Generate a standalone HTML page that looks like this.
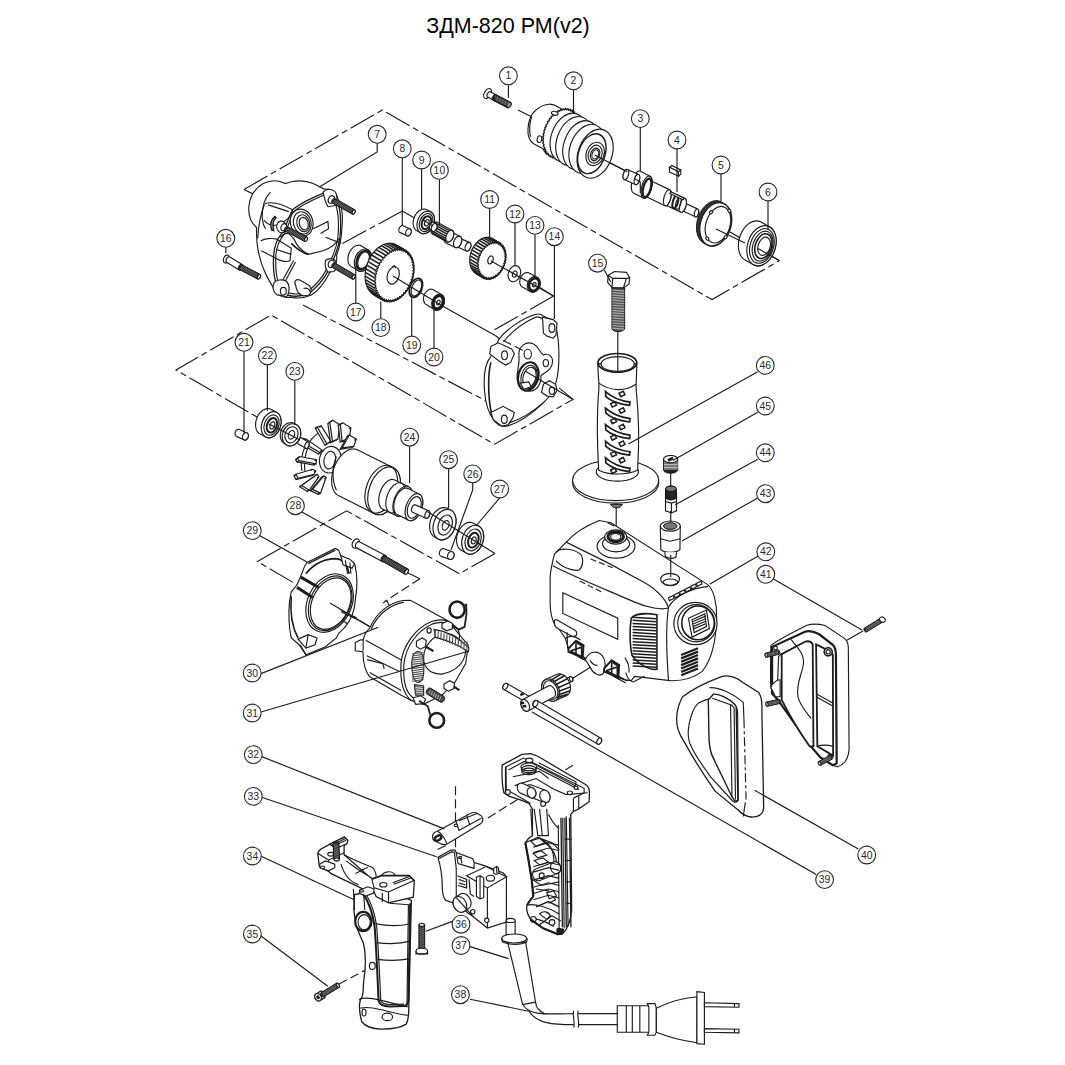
<!DOCTYPE html>
<html><head><meta charset="utf-8"><style>
html,body{margin:0;padding:0;background:#fff;}
body{width:1065px;height:1065px;overflow:hidden;position:relative;}
#t{position:absolute;left:0;top:0;width:1065px;text-align:center;}
svg{position:absolute;left:0;top:0;}
svg *{vector-effect:non-scaling-stroke;}
.l{fill:none;stroke:#1c1c1c;stroke-width:1.15;}
.d{fill:none;stroke:#1c1c1c;stroke-width:1.15;stroke-dasharray:27 4 6 4;}
.d2{fill:none;stroke:#1c1c1c;stroke-width:1.15;stroke-dasharray:9 4;}
.c{fill:#fff;stroke:#2a2a2a;stroke-width:1.1;}
.n{font-family:"Liberation Sans",sans-serif;font-size:10.4px;text-anchor:middle;fill:#2a2a2a;}
.o{fill:#fff;stroke:#1c1c1c;stroke-width:1.15;}
.k{fill:#222;stroke:#111;stroke-width:1;}
.g{fill:#777;stroke:#111;stroke-width:1;}
.tt{font-family:"Liberation Sans",sans-serif;font-size:21.5px;fill:#000;}
</style></head><body>
<svg width="1065" height="1065" viewBox="0 0 1065 1065">
<text class="tt" x="508" y="33" text-anchor="middle">ЗДМ-820 РМ(v2)</text>
<polyline class="d" points="244,189.5 382.4,110 712,299.6 779.3,260.6" />
<polyline class="d" points="402.3,211 336,247" />
<polyline class="d" points="553.5,296 491.5,331.6" />
<polyline class="d" points="303,305 490,403" />
<polyline class="d" points="495.7,335.8 573,399.4 494.6,444.2 271,315 176,370 257.7,417.4" />
<polyline class="d" points="495,553.4 459.5,573.7 346.6,510.8 257.4,561.5 335,607" />
<polyline class="d2" points="339,984 368,968.7" />
<polyline class="d2" points="455.5,786.3 455.5,849.4" />
<polyline class="d2" points="487.9,817.9 573.7,764.7" />
<polyline class="d2" points="437.6,849.4 447.5,844.5" />
<polyline class="d2" points="420,578.7 384.7,601.6" />
<polyline class="l" points="244,189.5 265,200" />
<polyline class="l" points="518,110 531.5,116.7" />
<polyline class="l" points="594.6,155 627.3,171.8" />
<polyline class="l" points="705,217.6 779.3,260.6" />
<polyline class="l" points="402.3,211 414.5,218" />
<polyline class="l" points="539,287 553.5,296" />
<polyline class="l" points="442,305.8 495.7,335.8" />
<polyline class="l" points="406.5,572.2 420,578.7" />
<polyline class="l" points="335,607 370,626.7" />
<polyline class="l" points="617.8,331 617.8,352" />
<polyline class="l" points="616.2,506.6 616.2,538.3" />
<g transform="translate(470,60) scale(0.15974)"><ellipse class="o" cx="110" cy="210" rx="20" ry="34" transform="rotate(30 110 210)" /><polygon class="o" points="106.1,224.05 106.12,222.84 106.24,221.57 106.45,220.25 106.75,218.9 107.13,217.51 107.6,216.1 108.14,214.69 108.76,213.28 109.45,211.88 110.21,210.5 111.02,209.16 111.89,207.86 112.8,206.62 113.75,205.44 114.74,204.33 115.75,203.31 116.78,202.37 117.81,201.53 118.85,200.8 119.88,200.17 120.9,199.65 121.9,199.25 122.86,198.97 123.79,198.81 124.68,198.78 125.51,198.87 126.29,199.08 127,199.41 169,222.41 169.65,222.86 170.22,223.43 170.71,224.11 171.12,224.89 171.45,225.77 171.69,226.75 171.84,227.81 171.9,228.95 171.88,230.16 171.76,231.43 171.55,232.75 171.25,234.1 170.87,235.49 170.4,236.9 169.86,238.31 169.24,239.72 168.55,241.12 167.79,242.5 166.98,243.84 166.11,245.14 165.2,246.38 164.25,247.56 163.26,248.67 162.25,249.69 161.22,250.63 160.19,251.47 159.15,252.2 158.12,252.83 157.1,253.35 156.1,253.75 155.14,254.03 154.21,254.19 153.32,254.22 152.49,254.13 151.71,253.92 151,253.59 109,230.59 108.35,230.14 107.78,229.57 107.29,228.89 106.88,228.11 106.55,227.23 106.31,226.25 106.16,225.19" /><ellipse class="o" cx="160" cy="238" rx="9" ry="18" transform="rotate(30 160 238)" /><polygon class="k" points="138.19,242.36 138.27,240.92 138.46,239.43 138.75,237.9 139.14,236.34 139.63,234.76 140.21,233.17 140.88,231.59 141.64,230.03 142.47,228.5 143.38,227.01 144.35,225.58 145.39,224.2 146.47,222.91 147.59,221.7 148.75,220.58 149.93,219.56 151.13,218.65 152.33,217.86 153.54,217.2 154.73,216.66 155.9,216.25 157.04,215.98 158.14,215.84 159.19,215.85 160.19,215.99 161.13,216.27 162,216.68 255,264.68 255.79,265.22 256.5,265.9 257.12,266.69 257.66,267.61 258.09,268.63 258.42,269.75 258.66,270.97 258.78,272.27 258.81,273.64 258.73,275.08 258.54,276.57 258.25,278.1 257.86,279.66 257.37,281.24 256.79,282.83 256.12,284.41 255.36,285.97 254.53,287.5 253.62,288.99 252.65,290.42 251.61,291.8 250.53,293.09 249.41,294.3 248.25,295.42 247.07,296.44 245.87,297.35 244.67,298.14 243.46,298.8 242.27,299.34 241.1,299.75 239.96,300.02 238.86,300.16 237.81,300.15 236.81,300.01 235.87,299.73 235,299.32 142,251.32 141.21,250.78 140.5,250.1 139.88,249.31 139.34,248.39 138.91,247.37 138.58,246.25 138.34,245.03 138.22,243.73" /><ellipse class="o" cx="245" cy="282" rx="9" ry="17" transform="rotate(30 245 282)" /><line class="l" x1="160" y1="222" x2="166" y2="256" style="stroke:#666"/><line class="l" x1="170" y1="227" x2="176" y2="261" style="stroke:#666"/><line class="l" x1="180" y1="232" x2="186" y2="266" style="stroke:#666"/><line class="l" x1="190" y1="237" x2="196" y2="271" style="stroke:#666"/><line class="l" x1="200" y1="242" x2="206" y2="276" style="stroke:#666"/><line class="l" x1="210" y1="247" x2="216" y2="281" style="stroke:#666"/><line class="l" x1="220" y1="252" x2="226" y2="286" style="stroke:#666"/><line class="l" x1="230" y1="257" x2="236" y2="291" style="stroke:#666"/><line class="l" x1="240" y1="262" x2="246" y2="296" style="stroke:#666"/></g>
<g transform="translate(520,95) scale(0.09390)"><path class="o" d="M 240,570 L 150,522 C 100,492 80,430 85,360 C 90,280 120,200 170,160 C 210,125 260,100 310,98 C 350,97 380,110 410,130 L 480,170 L 280,630 Z" /><path class="l" d="M 125,228 C 102,280 96,380 112,445" /><polygon class="o" points="612.64,474.07 598.59,487.24 598.88,507.26 584.11,518.21 582.38,538.8 567.14,547.35 563.42,568.15 547.97,574.15 542.32,594.8 526.94,598.15 519.46,618.31 504.4,618.95 495.22,638.27 480.73,636.19 470.01,654.33 456.35,649.57 444.27,666.23 431.67,658.86 418.43,673.76 407.11,663.91 392.94,676.79 383.09,664.63 368.24,675.26 360.03,661.01 344.74,669.22 338.31,653.11 322.86,658.75 318.31,641.06 302.96,644.03 300.38,625.07 285.38,625.33 284.81,605.41 270.42,602.96 271.88,582.42 258.35,577.3 261.8,556.5 249.37,548.79 254.75,528.09 243.62,517.91 250.86,497.66 241.22,485.21 250.17,465.76 242.2,451.23 252.72,432.91 246.54,416.57 258.45,399.68 254.17,381.8 267.26,366.64 264.96,347.53 279.01,334.36 278.72,314.34 293.49,303.39 295.22,282.8 310.46,274.25 314.18,253.45 329.63,247.45 335.28,226.8 350.66,223.45 358.14,203.29 373.2,202.65 382.38,183.33 396.87,185.41 407.59,167.27 421.25,172.03 433.33,155.37 445.93,162.74 459.17,147.84 470.49,157.69 484.66,144.81 494.51,156.97 509.36,146.34 517.57,160.59 532.86,152.38 539.29,168.49 554.74,162.85 559.29,180.54 574.64,177.57 577.22,196.53 592.22,196.27 592.79,216.19 607.18,218.64 605.72,239.18 619.25,244.3 615.8,265.1 628.23,272.81 622.85,293.51 633.98,303.69 626.74,323.94 636.38,336.39 627.43,355.84 635.4,370.37 624.88,388.69 631.06,405.03 619.15,421.92 623.43,439.8 610.34,454.96 612.64,474.07" style="stroke-width:1.4"/><ellipse class="o" cx="512.76" cy="454.66" rx="180" ry="270" transform="rotate(20 512.76 454.66)" /><ellipse class="o" cx="572.96" cy="490.36" rx="180" ry="270" transform="rotate(20 572.96 490.36)" /><ellipse class="o" cx="647.78" cy="534.73" rx="180" ry="270" transform="rotate(20 647.78 534.73)" /><ellipse class="o" cx="713.14" cy="573.49" rx="180" ry="270" transform="rotate(20 713.14 573.49)" /><ellipse class="o" cx="800" cy="625" rx="180" ry="270" transform="rotate(20 800 625)" /><ellipse class="o" cx="370" cy="195" rx="36" ry="20" transform="rotate(15 370 195)" /><ellipse class="o" cx="207" cy="470" rx="24" ry="36" transform="rotate(10 207 470)" /><ellipse class="l" cx="765" cy="625" rx="140" ry="220" transform="rotate(20 765 625)" style="stroke-width:1.4"/><ellipse class="l" cx="800" cy="628" rx="95" ry="128" transform="rotate(20 800 628)" /><ellipse class="l" cx="800" cy="630" rx="72" ry="98" transform="rotate(20 800 630)" /><ellipse class="l" cx="800" cy="632" rx="48" ry="68" transform="rotate(20 800 632)" /><ellipse class="l" cx="802" cy="632" rx="34" ry="50" transform="rotate(20 802 632)" /></g>
<g transform="translate(620,150) scale(0.08453)"><polygon class="o" points="688.71,672.8 688.74,668.96 688.97,665.02 689.39,661 690.01,656.93 690.82,652.85 691.82,648.79 692.99,644.77 694.33,640.83 695.82,637 697.46,633.31 699.24,629.78 701.14,626.44 703.14,623.32 705.23,620.44 707.39,617.82 709.62,615.49 711.88,613.46 714.17,611.74 716.46,610.35 718.75,609.31 721,608.61 723.21,608.26 725.36,608.27 727.42,608.64 729.4,609.35 919.4,699.35 921.26,700.42 923,701.82 924.6,703.56 926.06,705.6 927.35,707.95 928.47,710.58 929.42,713.48 930.18,716.61 930.74,719.96 931.12,723.49 931.29,727.2 931.26,731.04 931.03,734.98 930.61,739 929.99,743.07 929.18,747.15 928.18,751.21 927.01,755.23 925.67,759.17 924.18,763 922.54,766.69 920.76,770.22 918.86,773.56 916.86,776.68 914.77,779.56 912.61,782.18 910.38,784.51 908.12,786.54 905.83,788.26 903.54,789.65 901.25,790.69 899,791.39 896.79,791.74 894.64,791.73 892.58,791.36 890.6,790.65 700.6,700.65 698.74,699.58 697,698.18 695.4,696.44 693.94,694.4 692.65,692.05 691.53,689.42 690.58,686.52 689.82,683.39 689.26,680.04 688.88,676.51" /><ellipse class="o" cx="905" cy="745" rx="24" ry="48" transform="rotate(15 905 745)" /><polygon class="o" points="489.02,587.5 489.3,580.85 489.89,574 490.78,567 491.98,559.91 493.46,552.79 495.23,545.68 497.25,538.65 499.53,531.73 502.04,525 504.76,518.49 507.67,512.27 510.76,506.36 513.99,500.83 517.34,495.71 520.78,491.04 524.3,486.86 527.86,483.19 531.44,480.07 535.01,477.53 538.54,475.57 542,474.22 545.37,473.48 548.63,473.36 551.74,473.86 554.69,474.98 769.69,574.98 772.45,576.71 775,579.04 777.32,581.94 779.4,585.4 781.21,589.39 782.75,593.88 784.01,598.83 784.96,604.22 785.61,609.98 785.95,616.09 785.98,622.5 785.7,629.15 785.11,636 784.22,643 783.02,650.09 781.54,657.21 779.77,664.32 777.75,671.35 775.47,678.27 772.96,685 770.24,691.51 767.33,697.73 764.24,703.64 761.01,709.17 757.66,714.29 754.22,718.96 750.7,723.14 747.14,726.81 743.56,729.93 739.99,732.47 736.46,734.43 733,735.78 729.63,736.52 726.37,736.64 723.26,736.14 720.31,735.02 505.31,635.02 502.55,633.29 500,630.96 497.68,628.06 495.6,624.6 493.79,620.61 492.25,616.12 490.99,611.17 490.04,605.78 489.39,600.02 489.05,593.91" /><ellipse class="o" cx="745" cy="655" rx="36" ry="84" transform="rotate(15 745 655)" /><ellipse class="l" cx="655" cy="615" rx="30" ry="78" transform="rotate(15 655 615)" style="stroke-width:2"/><ellipse class="l" cx="690" cy="630" rx="28" ry="74" transform="rotate(15 690 630)" /><polygon class="o" points="283.8,500.81 283.86,493.36 284.26,485.62 285.02,477.65 286.11,469.5 287.55,461.24 289.3,452.94 291.36,444.65 293.72,436.44 296.35,428.37 299.24,420.5 302.37,412.9 305.7,405.61 309.22,398.7 312.9,392.22 316.71,386.22 320.61,380.74 324.59,375.83 328.62,371.52 332.65,367.85 336.66,364.83 340.62,362.51 344.5,360.89 348.27,359.98 351.9,359.8 355.36,360.34 358.64,361.6 588.64,471.6 591.69,473.58 594.5,476.24 597.05,479.59 599.32,483.58 601.28,488.2 602.94,493.4 604.27,499.14 605.26,505.39 605.9,512.08 606.2,519.19 606.14,526.64 605.74,534.38 604.98,542.35 603.89,550.5 602.45,558.76 600.7,567.06 598.64,575.35 596.28,583.56 593.65,591.63 590.76,599.5 587.63,607.1 584.3,614.39 580.78,621.3 577.1,627.78 573.29,633.78 569.39,639.26 565.41,644.17 561.38,648.48 557.35,652.15 553.34,655.17 549.38,657.49 545.5,659.11 541.73,660.02 538.1,660.2 534.64,659.66 531.36,658.4 301.36,548.4 298.31,546.42 295.5,543.76 292.95,540.41 290.68,536.42 288.72,531.8 287.06,526.6 285.73,520.86 284.74,514.61 284.1,507.92" /><ellipse class="o" cx="560" cy="565" rx="40" ry="98" transform="rotate(15 560 565)" /><polygon class="o" points="134.01,432.2 134.46,421.5 135.4,410.49 136.84,399.25 138.76,387.86 141.14,376.41 143.98,364.99 147.23,353.68 150.89,342.57 154.93,331.75 159.31,321.29 163.99,311.29 168.95,301.8 174.15,292.91 179.54,284.68 185.09,277.18 190.75,270.46 196.49,264.57 202.25,259.56 207.99,255.47 213.67,252.33 219.25,250.16 224.68,248.97 229.92,248.79 234.94,249.6 239.69,251.4 354.69,311.4 359.14,314.19 363.25,317.93 366.99,322.6 370.34,328.16 373.27,334.58 375.76,341.79 377.78,349.76 379.32,358.41 380.38,367.68 380.93,377.5 380.99,387.8 380.54,398.5 379.6,409.51 378.16,420.75 376.24,432.14 373.86,443.59 371.02,455.01 367.77,466.32 364.11,477.43 360.07,488.25 355.69,498.71 351.01,508.71 346.05,518.2 340.85,527.09 335.46,535.32 329.91,542.82 324.25,549.54 318.51,555.43 312.75,560.44 307.01,564.53 301.33,567.67 295.75,569.84 290.32,571.03 285.08,571.21 280.06,570.4 275.31,568.6 160.31,508.6 155.86,505.81 151.75,502.07 148.01,497.4 144.66,491.84 141.73,485.42 139.24,478.21 137.22,470.24 135.68,461.59 134.62,452.32 134.07,442.5" /><ellipse class="o" cx="315" cy="440" rx="58" ry="135" transform="rotate(15 315 440)" /><ellipse class="l" cx="320" cy="448" rx="44" ry="112" transform="rotate(15 320 448)" style="stroke-width:2.2"/><polygon class="o" points="36.88,313.22 36.96,308.27 37.28,303.19 37.86,298 38.68,292.75 39.73,287.48 41.02,282.24 42.53,277.05 44.25,271.95 46.16,267 48.26,262.22 50.52,257.65 52.93,253.33 55.47,249.29 58.12,245.56 60.86,242.16 63.67,239.13 66.52,236.49 69.41,234.25 72.3,232.44 75.17,231.07 78,230.14 80.77,229.67 83.46,229.66 86.05,230.11 88.51,231.02 218.51,291.02 220.83,292.37 223,294.16 224.99,296.38 226.79,299.01 228.39,302.02 229.77,305.4 230.92,309.11 231.84,313.14 232.51,317.45 232.94,322.01 233.12,326.78 233.04,331.73 232.72,336.81 232.14,342 231.32,347.25 230.27,352.52 228.98,357.76 227.47,362.95 225.75,368.05 223.84,373 221.74,377.78 219.48,382.35 217.07,386.67 214.53,390.71 211.88,394.44 209.14,397.84 206.33,400.87 203.48,403.51 200.59,405.75 197.7,407.56 194.83,408.93 192,409.86 189.23,410.33 186.54,410.34 183.95,409.89 181.49,408.98 51.49,348.98 49.17,347.63 47,345.84 45.01,343.62 43.21,340.99 41.61,337.98 40.23,334.6 39.08,330.89 38.16,326.86 37.49,322.55 37.06,317.99" /><ellipse class="o" cx="200" cy="350" rx="30" ry="62" transform="rotate(15 200 350)" /><ellipse class="o" cx="70" cy="290" rx="30" ry="62" transform="rotate(15 70 290)" /><polyline class="l" points="175,340 240,380 240,510" /><polygon class="o" points="600,495 760,570 745,590 590,515" /><polygon class="o" points="585,205 612,183 718,235 692,258" /><polygon class="o" points="585,205 692,258 692,310 585,262" /><polygon class="o" points="692,258 718,235 720,285 692,310" /></g>
<g transform="translate(600,180) scale(0.18779)"><polygon class="k" points="513.65,252.27 514.03,242.22 515.07,232.06 516.76,221.86 519.08,211.7 522.01,201.66 525.54,191.81 529.64,182.23 534.27,172.99 539.4,164.16 544.99,155.8 551,147.99 557.39,140.78 564.09,134.23 571.08,128.38 578.28,123.29 585.64,118.98 593.12,115.49 600.65,112.86 608.17,111.09 615.63,110.2 622.98,110.21 630.14,111.1 637.08,112.87 643.74,115.52 650.06,119.01 666.06,128.01 672,132.32 677.52,137.42 682.57,143.27 687.11,149.83 691.11,157.05 694.54,164.86 697.37,173.22 699.58,182.05 701.15,191.3 702.08,200.88 702.35,210.73 701.97,220.78 700.93,230.94 699.24,241.14 696.92,251.3 693.99,261.34 690.46,271.19 686.36,280.77 681.73,290.01 676.6,298.84 671.01,307.2 665,315.01 658.61,322.22 651.91,328.77 644.92,334.62 637.72,339.71 630.36,344.02 622.88,347.51 615.35,350.14 607.83,351.91 600.37,352.8 593.02,352.79 585.86,351.9 578.92,350.13 572.26,347.48 565.94,343.99 549.94,334.99 544,330.68 538.48,325.58 533.43,319.73 528.89,313.17 524.89,305.95 521.46,298.14 518.63,289.78 516.42,280.95 514.85,271.7 513.92,262.12" style="fill:#333"/><ellipse class="o" cx="616" cy="236" rx="80" ry="118" transform="rotate(18 616 236)" /><ellipse class="o" cx="628" cy="238" rx="64" ry="100" transform="rotate(18 628 238)" /><ellipse class="o" cx="688.68" cy="164.19" rx="7" ry="10" transform="rotate(-42 688.68 164.19)" /><ellipse class="o" cx="668.6" cy="304.17" rx="7" ry="10" transform="rotate(48 668.6 304.17)" /><ellipse class="o" cx="571.32" cy="311.81" rx="7" ry="10" transform="rotate(138 571.32 311.81)" /><ellipse class="o" cx="591.4" cy="171.83" rx="7" ry="10" transform="rotate(228 591.4 171.83)" /><polygon class="o" points="736.85,348.49 737.24,339.29 738.22,329.99 739.79,320.65 741.93,311.34 744.62,302.13 747.85,293.1 751.59,284.31 755.82,275.84 760.49,267.73 765.58,260.06 771.05,252.89 776.85,246.26 782.94,240.24 789.27,234.86 795.8,230.16 802.48,226.19 809.25,222.97 816.06,220.52 822.87,218.87 829.62,218.03 836.25,218 842.73,218.79 848.99,220.38 855,222.77 900,247.77 905.7,250.94 911.05,254.87 916.01,259.51 920.55,264.85 924.63,270.83 928.21,277.42 931.28,284.56 933.8,292.19 935.76,300.27 937.15,308.73 937.95,317.5 938.15,326.51 937.76,335.71 936.78,345.01 935.21,354.35 933.07,363.66 930.38,372.87 927.15,381.9 923.41,390.69 919.18,399.16 914.51,407.27 909.42,414.94 903.95,422.11 898.15,428.74 892.06,434.76 885.73,440.14 879.2,444.84 872.52,448.81 865.75,452.03 858.94,454.48 852.13,456.13 845.38,456.97 838.75,457 832.27,456.21 826.01,454.62 820,452.23 775,427.23 769.3,424.06 763.95,420.13 758.99,415.49 754.45,410.15 750.37,404.17 746.79,397.58 743.72,390.44 741.2,382.81 739.24,374.73 737.85,366.27 737.05,357.5" /><ellipse class="o" cx="860" cy="350" rx="74" ry="110" transform="rotate(18 860 350)" /><ellipse class="l" cx="862" cy="351" rx="62" ry="95" transform="rotate(18 862 351)" /><ellipse class="l" cx="866" cy="352" rx="52" ry="82" transform="rotate(18 866 352)" /><ellipse class="l" cx="870" cy="352" rx="43" ry="68" transform="rotate(18 870 352)" style="stroke-width:1.6"/><ellipse class="l" cx="874" cy="353" rx="32" ry="50" transform="rotate(18 874 353)" /></g>
<g transform="translate(240,175) scale(0.12210)"><path class="o" d="M 135,430 C 90,390 68,330 72,260 C 80,180 120,110 190,70 C 250,40 320,40 370,70 L 420,55 C 470,45 540,45 600,70 L 690,115 C 740,110 790,140 800,190 C 830,240 845,330 835,430 C 830,520 815,600 790,660 C 800,700 780,760 740,790 C 700,870 640,950 580,985 C 520,1010 460,1010 420,1000 C 380,1010 340,1000 300,960 C 270,920 240,870 215,820 C 175,740 150,650 140,560 C 135,510 135,460 135,430 Z" /><path class="l" d="M 250,140 C 205,185 180,260 182,340 C 183,380 195,420 210,440" /><path class="l" d="M 200,240 C 170,320 150,420 145,520" /><path class="l" d="M 430,285 C 480,240 560,200 680,150 C 720,140 760,160 790,200 C 820,260 830,380 820,500 C 810,580 790,640 760,700 C 730,790 670,880 590,950 C 540,985 470,1000 420,990 C 370,985 330,960 300,900 C 280,850 270,760 275,660 C 280,590 300,530 340,480 C 370,440 400,340 430,285 Z" style="stroke-width:1.3"/><path class="l" d="M 440,300 C 490,255 570,215 680,168 C 715,160 748,178 772,212 C 800,268 812,380 803,498 C 795,575 775,635 745,692 C 715,780 658,865 582,932 C 535,965 472,980 425,972 C 380,968 345,945 318,893 C 298,845 290,760 293,662 C 298,598 316,542 354,496 C 384,458 412,352 440,300 Z" /><path class="l" d="M 200,235 C 260,215 350,240 430,285 L 420,330 C 380,370 340,400 300,410 C 260,420 220,400 195,370" /><path class="l" d="M 230,245 L 400,300" /><path class="o" d="M 285,340 C 255,360 245,400 260,450 L 275,455 C 265,410 270,370 295,350 Z" style="stroke-width:1.5"/><path class="l" d="M 170,540 C 200,520 260,515 300,525 L 420,600 L 410,700 C 380,720 320,700 290,680 L 175,620" /><path class="l" d="M 300,610 L 420,650" /><path class="l" d="M 330,510 C 360,480 390,470 410,490 L 440,520 C 460,570 500,620 560,650 L 680,620 C 740,600 790,560 810,520" /><path class="l" d="M 420,560 C 460,600 520,640 560,650" style="stroke-width:1.6"/><path class="l" d="M 345,870 L 440,700" /><path class="l" d="M 365,880 L 455,712" /><path class="o" d="M 455,900 C 440,870 460,850 490,860 L 560,900 C 590,920 590,970 560,985 L 520,990 C 480,980 460,940 455,900 Z" /><path class="l" d="M 520,930 C 540,920 570,930 575,960" /><path class="l" d="M 600,440 L 720,380 L 725,440 L 660,480" /><path class="l" d="M 700,510 L 830,560" /><ellipse class="o" cx="505" cy="390" rx="92" ry="112" transform="rotate(-15 505 390)" /><ellipse class="l" cx="510" cy="392" rx="72" ry="92" transform="rotate(-15 510 392)" /><ellipse class="l" cx="518" cy="395" rx="52" ry="70" transform="rotate(-15 518 395)" /><ellipse class="l" cx="522" cy="398" rx="36" ry="52" transform="rotate(-15 522 398)" /><path class="o" d="M 680,140 C 700,115 740,110 770,130 C 800,150 800,220 780,250 L 720,260 C 700,230 690,180 680,140 Z" /><path class="o" d="M 700,700 C 720,680 760,680 780,700 C 795,730 790,770 770,790 L 720,795 C 700,770 695,730 700,700 Z" /><path class="o" d="M 280,880 C 300,860 340,850 380,870 C 410,900 410,960 380,1000 L 300,980 C 270,950 265,910 280,880 Z" /><ellipse class="o" cx="355" cy="952" rx="24" ry="32" /><ellipse class="o" cx="340" cy="425" rx="40" ry="48" transform="rotate(-10 340 425)" /><ellipse class="o" cx="748" cy="200" rx="24" ry="32" transform="rotate(25 748 200)" /><polygon class="k" points="750.62,218.96 750.68,217.45 750.86,215.88 751.14,214.27 751.53,212.63 752.02,210.96 752.61,209.29 753.29,207.62 754.07,205.97 754.92,204.35 755.86,202.78 756.86,201.26 757.92,199.81 759.04,198.43 760.21,197.14 761.41,195.95 762.63,194.87 763.88,193.9 765.13,193.05 766.39,192.34 767.63,191.75 768.85,191.31 770.04,191.01 771.2,190.85 772.31,190.84 773.36,190.98 774.35,191.26 775.26,191.68 941.26,284.68 942.1,285.24 942.86,285.94 943.52,286.76 944.09,287.71 944.56,288.78 944.93,289.96 945.19,291.23 945.34,292.59 945.38,294.04 945.32,295.55 945.14,297.12 944.86,298.73 944.47,300.37 943.98,302.04 943.39,303.71 942.71,305.38 941.93,307.03 941.08,308.65 940.14,310.22 939.14,311.74 938.08,313.19 936.96,314.57 935.79,315.86 934.59,317.05 933.37,318.13 932.12,319.1 930.87,319.95 929.61,320.66 928.37,321.25 927.15,321.69 925.96,321.99 924.8,322.15 923.69,322.16 922.64,322.02 921.65,321.74 920.74,321.32 754.74,228.32 753.9,227.76 753.14,227.06 752.48,226.24 751.91,225.29 751.44,224.22 751.07,223.04 750.81,221.77 750.66,220.41" style="fill:#2c2c2c"/><line class="l" x1="763.5" y1="228.42" x2="787.25" y2="203.21" style="stroke:#6a6a6a;stroke-width:1"/><line class="l" x1="773.87" y1="234.23" x2="797.63" y2="209.02" style="stroke:#6a6a6a;stroke-width:1"/><line class="l" x1="784.25" y1="240.04" x2="808" y2="214.83" style="stroke:#6a6a6a;stroke-width:1"/><line class="l" x1="794.62" y1="245.85" x2="818.38" y2="220.65" style="stroke:#6a6a6a;stroke-width:1"/><line class="l" x1="805" y1="251.67" x2="828.75" y2="226.46" style="stroke:#6a6a6a;stroke-width:1"/><line class="l" x1="815.37" y1="257.48" x2="839.13" y2="232.27" style="stroke:#6a6a6a;stroke-width:1"/><line class="l" x1="825.75" y1="263.29" x2="849.5" y2="238.08" style="stroke:#6a6a6a;stroke-width:1"/><line class="l" x1="836.12" y1="269.1" x2="859.88" y2="243.9" style="stroke:#6a6a6a;stroke-width:1"/><line class="l" x1="846.5" y1="274.92" x2="870.25" y2="249.71" style="stroke:#6a6a6a;stroke-width:1"/><line class="l" x1="856.87" y1="280.73" x2="880.63" y2="255.52" style="stroke:#6a6a6a;stroke-width:1"/><line class="l" x1="867.25" y1="286.54" x2="891" y2="261.33" style="stroke:#6a6a6a;stroke-width:1"/><line class="l" x1="877.62" y1="292.35" x2="901.38" y2="267.15" style="stroke:#6a6a6a;stroke-width:1"/><line class="l" x1="888" y1="298.17" x2="911.75" y2="272.96" style="stroke:#6a6a6a;stroke-width:1"/><line class="l" x1="898.37" y1="303.98" x2="922.13" y2="278.77" style="stroke:#6a6a6a;stroke-width:1"/><line class="l" x1="908.75" y1="309.79" x2="932.5" y2="284.58" style="stroke:#6a6a6a;stroke-width:1"/><ellipse class="o" cx="931" cy="303" rx="10.5" ry="19.32" transform="rotate(29.26 931 303)" /><ellipse class="o" cx="358" cy="428" rx="22" ry="30" transform="rotate(25 358 428)" /><polygon class="k" points="363.82,449.29 363.86,447.77 364,446.2 364.24,444.58 364.59,442.93 365.05,441.25 365.6,439.57 366.24,437.89 366.98,436.22 367.8,434.58 368.7,432.99 369.66,431.45 370.69,429.97 371.78,428.57 372.92,427.25 374.09,426.04 375.29,424.92 376.51,423.93 377.75,423.05 378.99,422.31 380.21,421.7 381.43,421.23 382.61,420.9 383.76,420.72 384.87,420.68 385.93,420.79 386.92,421.05 387.85,421.45 549.85,507.45 550.7,507.99 551.47,508.67 552.15,509.49 552.74,510.42 553.24,511.48 553.63,512.64 553.92,513.91 554.1,515.27 554.18,516.71 554.14,518.23 554,519.8 553.76,521.42 553.41,523.07 552.95,524.75 552.4,526.43 551.76,528.11 551.02,529.78 550.2,531.42 549.3,533.01 548.34,534.55 547.31,536.03 546.22,537.43 545.08,538.75 543.91,539.96 542.71,541.08 541.49,542.07 540.25,542.95 539.01,543.69 537.79,544.3 536.57,544.77 535.39,545.1 534.24,545.28 533.13,545.32 532.07,545.21 531.08,544.95 530.15,544.55 368.15,458.55 367.3,458.01 366.53,457.33 365.85,456.51 365.26,455.58 364.76,454.52 364.37,453.36 364.08,452.09 363.9,450.73" style="fill:#2c2c2c"/><line class="l" x1="377.21" y1="458.6" x2="400.39" y2="432.86" style="stroke:#6a6a6a;stroke-width:1"/><line class="l" x1="388.01" y1="464.34" x2="411.19" y2="438.6" style="stroke:#6a6a6a;stroke-width:1"/><line class="l" x1="398.81" y1="470.07" x2="421.99" y2="444.33" style="stroke:#6a6a6a;stroke-width:1"/><line class="l" x1="409.61" y1="475.8" x2="432.79" y2="450.06" style="stroke:#6a6a6a;stroke-width:1"/><line class="l" x1="420.41" y1="481.54" x2="443.59" y2="455.8" style="stroke:#6a6a6a;stroke-width:1"/><line class="l" x1="431.21" y1="487.27" x2="454.39" y2="461.53" style="stroke:#6a6a6a;stroke-width:1"/><line class="l" x1="442.01" y1="493" x2="465.19" y2="467.26" style="stroke:#6a6a6a;stroke-width:1"/><line class="l" x1="452.81" y1="498.74" x2="475.99" y2="473" style="stroke:#6a6a6a;stroke-width:1"/><line class="l" x1="463.61" y1="504.47" x2="486.79" y2="478.73" style="stroke:#6a6a6a;stroke-width:1"/><line class="l" x1="474.41" y1="510.2" x2="497.59" y2="484.46" style="stroke:#6a6a6a;stroke-width:1"/><line class="l" x1="485.21" y1="515.94" x2="508.39" y2="490.2" style="stroke:#6a6a6a;stroke-width:1"/><line class="l" x1="496.01" y1="521.67" x2="519.19" y2="495.93" style="stroke:#6a6a6a;stroke-width:1"/><line class="l" x1="506.81" y1="527.4" x2="529.99" y2="501.66" style="stroke:#6a6a6a;stroke-width:1"/><line class="l" x1="517.61" y1="533.14" x2="540.79" y2="507.4" style="stroke:#6a6a6a;stroke-width:1"/><ellipse class="o" cx="540" cy="526" rx="10.5" ry="19.32" transform="rotate(27.96 540 526)" /><ellipse class="o" cx="748" cy="728" rx="24" ry="32" transform="rotate(25 748 728)" /><polygon class="k" points="750.46,746.7 750.55,745.19 750.75,743.63 751.07,742.02 751.48,740.38 752.01,738.73 752.63,737.06 753.34,735.41 754.14,733.78 755.03,732.17 755.99,730.61 757.02,729.11 758.11,727.68 759.25,726.32 760.44,725.06 761.66,723.89 762.91,722.83 764.17,721.88 765.44,721.06 766.71,720.36 767.96,719.81 769.19,719.38 770.39,719.1 771.55,718.97 772.65,718.98 773.7,719.13 774.69,719.43 775.59,719.87 941.59,816.87 942.42,817.45 943.17,818.16 943.81,818.99 944.37,819.96 944.82,821.03 945.16,822.21 945.4,823.49 945.53,824.86 945.54,826.3 945.45,827.81 945.25,829.37 944.93,830.98 944.52,832.62 943.99,834.27 943.37,835.94 942.66,837.59 941.86,839.22 940.97,840.83 940.01,842.39 938.98,843.89 937.89,845.32 936.75,846.68 935.56,847.94 934.34,849.11 933.09,850.17 931.83,851.12 930.56,851.94 929.29,852.64 928.04,853.19 926.81,853.62 925.61,853.9 924.45,854.03 923.35,854.02 922.3,853.87 921.31,853.57 920.41,853.13 754.41,756.13 753.58,755.55 752.83,754.84 752.19,754.01 751.63,753.04 751.18,751.97 750.84,750.79 750.6,749.51 750.47,748.14" style="fill:#2c2c2c"/><line class="l" x1="763.27" y1="756.45" x2="787.48" y2="731.68" style="stroke:#6a6a6a;stroke-width:1"/><line class="l" x1="773.65" y1="762.51" x2="797.85" y2="737.74" style="stroke:#6a6a6a;stroke-width:1"/><line class="l" x1="784.02" y1="768.57" x2="808.23" y2="743.8" style="stroke:#6a6a6a;stroke-width:1"/><line class="l" x1="794.4" y1="774.64" x2="818.6" y2="749.86" style="stroke:#6a6a6a;stroke-width:1"/><line class="l" x1="804.77" y1="780.7" x2="828.98" y2="755.93" style="stroke:#6a6a6a;stroke-width:1"/><line class="l" x1="815.15" y1="786.76" x2="839.35" y2="761.99" style="stroke:#6a6a6a;stroke-width:1"/><line class="l" x1="825.52" y1="792.82" x2="849.73" y2="768.05" style="stroke:#6a6a6a;stroke-width:1"/><line class="l" x1="835.9" y1="798.89" x2="860.1" y2="774.11" style="stroke:#6a6a6a;stroke-width:1"/><line class="l" x1="846.27" y1="804.95" x2="870.48" y2="780.18" style="stroke:#6a6a6a;stroke-width:1"/><line class="l" x1="856.65" y1="811.01" x2="880.85" y2="786.24" style="stroke:#6a6a6a;stroke-width:1"/><line class="l" x1="867.02" y1="817.07" x2="891.23" y2="792.3" style="stroke:#6a6a6a;stroke-width:1"/><line class="l" x1="877.4" y1="823.14" x2="901.6" y2="798.36" style="stroke:#6a6a6a;stroke-width:1"/><line class="l" x1="887.77" y1="829.2" x2="911.98" y2="804.43" style="stroke:#6a6a6a;stroke-width:1"/><line class="l" x1="898.15" y1="835.26" x2="922.35" y2="810.49" style="stroke:#6a6a6a;stroke-width:1"/><line class="l" x1="908.52" y1="841.32" x2="932.73" y2="816.55" style="stroke:#6a6a6a;stroke-width:1"/><ellipse class="o" cx="931" cy="835" rx="10.5" ry="19.32" transform="rotate(30.3 931 835)" /></g>
<g transform="translate(210,170) scale(0.14085)"><ellipse class="o" cx="117" cy="632" rx="20" ry="30" transform="rotate(25 117 632)" /><polygon class="o" points="113.2,645.75 113.24,644.17 113.4,642.53 113.66,640.83 114.03,639.1 114.51,637.35 115.09,635.59 115.77,633.83 116.54,632.08 117.4,630.37 118.35,628.69 119.36,627.08 120.44,625.53 121.58,624.06 122.76,622.68 123.99,621.41 125.24,620.24 126.52,619.2 127.81,618.28 129.1,617.5 130.38,616.86 131.65,616.36 132.88,616.01 134.08,615.82 135.23,615.78 136.33,615.89 137.37,616.16 138.33,616.58 228.33,670.58 229.21,671.14 230.01,671.85 230.72,672.7 231.33,673.67 231.84,674.78 232.24,675.99 232.54,677.32 232.72,678.74 232.8,680.25 232.76,681.83 232.6,683.47 232.34,685.17 231.97,686.9 231.49,688.65 230.91,690.41 230.23,692.17 229.46,693.92 228.6,695.63 227.65,697.31 226.64,698.92 225.56,700.47 224.42,701.94 223.24,703.32 222.01,704.59 220.76,705.76 219.48,706.8 218.19,707.72 216.9,708.5 215.62,709.14 214.35,709.64 213.12,709.99 211.92,710.18 210.77,710.22 209.67,710.11 208.63,709.84 207.67,709.42 117.67,655.42 116.79,654.86 115.99,654.15 115.28,653.3 114.67,652.33 114.16,651.22 113.76,650.01 113.46,648.68 113.28,647.26" /><ellipse class="o" cx="218" cy="690" rx="12" ry="22" transform="rotate(28 218 690)" /><polygon class="k" points="201.23,696.49 201.25,695.12 201.37,693.7 201.58,692.23 201.89,690.73 202.29,689.21 202.78,687.69 203.35,686.16 204.01,684.65 204.74,683.16 205.54,681.71 206.41,680.31 207.33,678.97 208.31,677.69 209.32,676.5 210.38,675.39 211.46,674.38 212.56,673.47 213.67,672.67 214.79,671.99 215.89,671.43 216.99,671 218.06,670.69 219.1,670.52 220.1,670.48 221.06,670.58 221.96,670.8 222.8,671.16 356.8,741.16 357.57,741.65 358.27,742.26 358.89,742.99 359.43,743.83 359.89,744.78 360.25,745.83 360.52,746.98 360.69,748.21 360.77,749.51 360.75,750.88 360.63,752.3 360.42,753.77 360.11,755.27 359.71,756.79 359.22,758.31 358.65,759.84 357.99,761.35 357.26,762.84 356.46,764.29 355.59,765.69 354.67,767.03 353.69,768.31 352.68,769.5 351.62,770.61 350.54,771.62 349.44,772.53 348.33,773.33 347.21,774.01 346.11,774.57 345.01,775 343.94,775.31 342.9,775.48 341.9,775.52 340.94,775.42 340.04,775.2 339.2,774.84 205.2,704.84 204.43,704.35 203.73,703.74 203.11,703.01 202.57,702.17 202.11,701.22 201.75,700.17 201.48,699.02 201.31,697.79" style="fill:#2c2c2c"/><line class="l" x1="213.17" y1="704.71" x2="233.98" y2="681.29" style="stroke:#6a6a6a;stroke-width:1"/><line class="l" x1="222.74" y1="709.71" x2="243.55" y2="686.29" style="stroke:#6a6a6a;stroke-width:1"/><line class="l" x1="232.31" y1="714.71" x2="253.12" y2="691.29" style="stroke:#6a6a6a;stroke-width:1"/><line class="l" x1="241.88" y1="719.71" x2="262.69" y2="696.29" style="stroke:#6a6a6a;stroke-width:1"/><line class="l" x1="251.45" y1="724.71" x2="272.26" y2="701.29" style="stroke:#6a6a6a;stroke-width:1"/><line class="l" x1="261.02" y1="729.71" x2="281.83" y2="706.29" style="stroke:#6a6a6a;stroke-width:1"/><line class="l" x1="270.59" y1="734.71" x2="291.41" y2="711.29" style="stroke:#6a6a6a;stroke-width:1"/><line class="l" x1="280.17" y1="739.71" x2="300.98" y2="716.29" style="stroke:#6a6a6a;stroke-width:1"/><line class="l" x1="289.74" y1="744.71" x2="310.55" y2="721.29" style="stroke:#6a6a6a;stroke-width:1"/><line class="l" x1="299.31" y1="749.71" x2="320.12" y2="726.29" style="stroke:#6a6a6a;stroke-width:1"/><line class="l" x1="308.88" y1="754.71" x2="329.69" y2="731.29" style="stroke:#6a6a6a;stroke-width:1"/><line class="l" x1="318.45" y1="759.71" x2="339.26" y2="736.29" style="stroke:#6a6a6a;stroke-width:1"/><line class="l" x1="328.02" y1="764.71" x2="348.83" y2="741.29" style="stroke:#6a6a6a;stroke-width:1"/><ellipse class="o" cx="348" cy="758" rx="9.5" ry="17.48" transform="rotate(27.58 348 758)" /></g>
<g transform="translate(360,130) scale(0.18779)"><polygon class="o" points="207.01,532.73 207.07,531.08 207.24,529.41 207.52,527.73 207.92,526.06 208.42,524.39 209.02,522.76 209.72,521.16 210.52,519.62 211.4,518.13 212.36,516.73 213.4,515.41 214.5,514.19 215.66,513.07 216.87,512.06 218.12,511.18 219.4,510.42 220.69,509.8 222,509.32 223.3,508.98 224.6,508.78 225.88,508.73 227.12,508.83 228.33,509.07 229.49,509.46 265.49,526.46 266.59,526.98 267.63,527.65 268.6,528.45 269.48,529.37 270.28,530.41 270.98,531.56 271.58,532.82 272.08,534.17 272.48,535.6 272.76,537.1 272.93,538.66 272.99,540.27 272.93,541.92 272.76,543.59 272.48,545.27 272.08,546.94 271.58,548.61 270.98,550.24 270.28,551.84 269.48,553.38 268.6,554.87 267.64,556.27 266.6,557.59 265.5,558.81 264.34,559.93 263.13,560.94 261.88,561.82 260.6,562.58 259.31,563.2 258,563.68 256.7,564.02 255.4,564.22 254.12,564.27 252.88,564.17 251.67,563.93 250.51,563.54 214.51,546.54 213.41,546.02 212.37,545.35 211.4,544.55 210.52,543.63 209.72,542.59 209.02,541.44 208.42,540.18 207.92,538.83 207.52,537.4 207.24,535.9 207.07,534.34" /><ellipse class="o" cx="258" cy="545" rx="14" ry="20" transform="rotate(22 258 545)" /><polygon class="o" points="283.06,495.47 283.21,490.36 283.72,485.17 284.58,479.96 285.79,474.75 287.33,469.59 289.2,464.52 291.38,459.57 293.86,454.79 296.61,450.2 299.61,445.85 302.84,441.77 306.28,437.98 309.9,434.53 313.68,431.42 317.58,428.7 321.57,426.37 325.63,424.46 329.72,422.97 333.81,421.93 337.87,421.34 341.88,421.21 345.79,421.53 349.58,422.3 353.23,423.51 356.69,425.17 376.69,436.17 379.96,438.25 382.99,440.74 385.78,443.62 388.29,446.87 390.51,450.46 392.42,454.36 394.02,458.56 395.27,463.01 396.18,467.68 396.74,472.53 396.94,477.53 396.79,482.64 396.28,487.83 395.42,493.04 394.21,498.25 392.67,503.41 390.8,508.48 388.62,513.43 386.14,518.21 383.39,522.8 380.39,527.15 377.16,531.23 373.72,535.02 370.1,538.47 366.32,541.58 362.42,544.3 358.43,546.63 354.37,548.54 350.28,550.03 346.19,551.07 342.13,551.66 338.12,551.79 334.21,551.47 330.42,550.7 326.77,549.49 323.31,547.83 303.31,536.83 300.04,534.75 297.01,532.26 294.22,529.38 291.71,526.13 289.49,522.54 287.58,518.64 285.98,514.44 284.73,509.99 283.82,505.32 283.26,500.47" /><ellipse class="o" cx="350" cy="492" rx="44" ry="62" transform="rotate(22 350 492)" /><ellipse class="l" cx="352" cy="493" rx="34" ry="50" transform="rotate(22 352 493)" /><ellipse class="l" cx="354" cy="494" rx="24" ry="36" transform="rotate(22 354 494)" style="stroke-width:2"/><ellipse class="o" cx="356" cy="494" rx="12" ry="18" transform="rotate(22 356 494)" /><polygon class="o" points="484.21,596.47 484.26,594.58 484.44,592.65 484.73,590.68 485.13,588.69 485.66,586.7 486.29,584.71 487.02,582.76 487.85,580.84 488.78,578.97 489.79,577.17 490.88,575.46 492.04,573.84 493.25,572.33 494.52,570.94 495.84,569.68 497.18,568.56 498.54,567.58 499.92,566.76 501.3,566.11 502.66,565.62 504.01,565.3 505.32,565.15 506.6,565.17 507.83,565.38 508.99,565.75 583.99,599.75 585.09,600.29 586.11,601 587.04,601.86 587.89,602.88 588.63,604.05 589.28,605.35 589.81,606.78 590.23,608.32 590.54,609.97 590.72,611.71 590.79,613.53 590.74,615.42 590.56,617.35 590.27,619.32 589.87,621.31 589.34,623.3 588.71,625.29 587.98,627.24 587.15,629.16 586.22,631.03 585.21,632.83 584.12,634.54 582.96,636.16 581.75,637.67 580.48,639.06 579.16,640.32 577.82,641.44 576.46,642.42 575.08,643.24 573.7,643.89 572.34,644.38 570.99,644.7 569.68,644.85 568.4,644.83 567.17,644.62 566.01,644.25 491.01,610.25 489.91,609.71 488.89,609 487.96,608.14 487.11,607.12 486.37,605.95 485.72,604.65 485.19,603.22 484.77,601.68 484.46,600.03 484.28,598.29" /><ellipse class="o" cx="575" cy="622" rx="14" ry="24" transform="rotate(22 575 622)" /><polygon class="o" points="447.93,582.88 447.95,580.35 448.13,577.75 448.47,575.11 448.99,572.44 449.66,569.77 450.48,567.12 451.46,564.51 452.57,561.95 453.82,559.47 455.19,557.08 456.67,554.81 458.26,552.67 459.93,550.68 461.69,548.84 463.5,547.19 465.36,545.72 467.26,544.46 469.18,543.4 471.11,542.56 473.03,541.94 474.92,541.56 476.78,541.4 478.59,541.48 480.33,541.79 481.99,542.33 531.99,566.33 533.56,567.1 535.03,568.08 536.38,569.28 537.61,570.68 538.7,572.28 539.65,574.05 540.46,575.99 541.1,578.09 541.59,580.32 541.91,582.67 542.07,585.12 542.05,587.65 541.87,590.25 541.53,592.89 541.01,595.56 540.34,598.23 539.52,600.88 538.54,603.49 537.43,606.05 536.18,608.53 534.81,610.92 533.33,613.19 531.74,615.33 530.07,617.32 528.31,619.16 526.5,620.81 524.64,622.28 522.74,623.54 520.82,624.6 518.89,625.44 516.97,626.06 515.08,626.44 513.22,626.6 511.41,626.52 509.67,626.21 508.01,625.67 458.01,601.67 456.44,600.9 454.97,599.92 453.62,598.72 452.39,597.32 451.3,595.72 450.35,593.95 449.54,592.01 448.9,589.91 448.41,587.68 448.09,585.33" /><ellipse class="o" cx="520" cy="596" rx="20" ry="32" transform="rotate(22 520 596)" /><polygon class="o" points="376.48,532.72 376.56,530.13 376.81,527.48 377.22,524.78 377.78,522.04 378.5,519.3 379.37,516.58 380.38,513.88 381.53,511.24 382.8,508.68 384.18,506.21 385.67,503.85 387.26,501.62 388.92,499.54 390.66,497.62 392.45,495.88 394.28,494.33 396.15,492.99 398.02,491.85 399.9,490.94 401.76,490.26 403.59,489.81 405.38,489.6 407.12,489.63 408.78,489.9 410.36,490.4 411.85,491.14 491.85,535.14 493.23,536.1 494.5,537.29 495.64,538.68 496.65,540.28 497.51,542.06 498.23,544.02 498.79,546.14 499.2,548.4 499.44,550.78 499.52,553.28 499.44,555.87 499.19,558.52 498.78,561.22 498.22,563.96 497.5,566.7 496.63,569.42 495.62,572.12 494.47,574.76 493.2,577.32 491.82,579.79 490.33,582.15 488.74,584.38 487.08,586.46 485.34,588.38 483.55,590.12 481.72,591.67 479.85,593.01 477.98,594.15 476.1,595.06 474.24,595.74 472.41,596.19 470.62,596.4 468.88,596.37 467.22,596.1 465.64,595.6 464.15,594.86 384.15,550.86 382.77,549.9 381.5,548.71 380.36,547.32 379.35,545.72 378.49,543.94 377.77,541.98 377.21,539.86 376.8,537.6 376.56,535.22" style="fill:#eee"/><ellipse class="o" cx="478" cy="565" rx="19" ry="33" transform="rotate(22 478 565)" style="fill:#eee"/><line class="l" x1="382.77" y1="549.9" x2="462.77" y2="593.9" style="stroke-width:1.4"/><line class="l" x1="378.18" y1="543.18" x2="458.18" y2="587.18" style="stroke-width:1.4"/><line class="l" x1="376.48" y1="533.23" x2="456.48" y2="577.23" style="stroke-width:1.4"/><line class="l" x1="377.92" y1="521.5" x2="457.92" y2="565.5" style="stroke-width:1.4"/><line class="l" x1="382.28" y1="509.69" x2="462.28" y2="553.69" style="stroke-width:1.4"/><line class="l" x1="388.92" y1="499.54" x2="468.92" y2="543.54" style="stroke-width:1.4"/><line class="l" x1="396.9" y1="492.51" x2="476.9" y2="536.51" style="stroke-width:1.4"/><polygon class="o" points="369.64,517.66 369.75,515.87 369.98,514.05 370.33,512.21 370.79,510.38 371.35,508.55 372.02,506.76 372.79,505 373.65,503.29 374.59,501.65 375.62,500.1 376.72,498.63 377.88,497.26 379.09,496 380.35,494.87 381.65,493.87 382.97,493 384.31,492.28 385.65,491.71 386.98,491.3 388.3,491.04 389.6,490.94 390.86,491 392.08,491.22 393.24,491.6 394.34,492.14 395.37,492.82 405.37,499.82 406.32,500.65 407.18,501.63 407.96,502.73 408.63,503.96 409.2,505.3 409.66,506.75 410.01,508.28 410.24,509.91 410.36,511.6 410.36,513.34 410.25,515.13 410.02,516.95 409.67,518.79 409.21,520.62 408.65,522.45 407.98,524.24 407.21,526 406.35,527.71 405.41,529.35 404.38,530.9 403.28,532.37 402.12,533.74 400.91,535 399.65,536.13 398.35,537.13 397.03,538 395.69,538.72 394.35,539.29 393.02,539.7 391.7,539.96 390.4,540.06 389.14,540 387.92,539.78 386.76,539.4 385.66,538.86 384.63,538.18 374.63,531.18 373.68,530.35 372.82,529.37 372.04,528.27 371.37,527.04 370.8,525.7 370.34,524.25 369.99,522.72 369.76,521.09 369.64,519.4" /><ellipse class="o" cx="395" cy="519" rx="14" ry="22" transform="rotate(22 395 519)" /><polygon class="o" points="584.37,689.62 584.95,680.99 586.11,672.29 587.83,663.59 590.11,654.93 592.92,646.4 596.25,638.06 600.07,629.97 604.35,622.19 609.05,614.79 614.15,607.81 619.6,601.31 625.36,595.34 631.4,589.95 637.65,585.18 644.08,581.06 650.63,577.62 657.26,574.9 663.91,572.9 670.54,571.66 677.1,571.17 683.52,571.44 689.78,572.46 695.81,574.24 701.57,576.76 707.02,579.99 747.44,603.96 752.54,607.88 757.24,612.47 761.52,617.69 765.34,623.49 768.66,629.84 771.48,636.68 773.75,643.97 775.47,651.65 776.63,659.66 777.21,667.93 777.21,676.41 776.63,685.04 775.47,693.74 773.75,702.44 771.47,711.1 768.66,719.63 765.33,727.97 761.51,736.06 757.23,743.84 752.53,751.24 747.43,758.22 741.98,764.72 736.22,770.69 730.18,776.08 723.93,780.85 717.5,784.97 710.95,788.41 704.32,791.13 697.67,793.13 691.04,794.37 684.48,794.86 678.06,794.59 671.8,793.57 665.77,791.79 660.01,789.27 654.56,786.04 614.14,762.07 609.04,758.15 604.34,753.56 600.06,748.34 596.24,742.54 592.92,736.19 590.1,729.35 587.83,722.06 586.11,714.38 584.95,706.37 584.37,698.1" style="fill:#f4f4f4"/><line class="l" x1="636.37" y1="770.48" x2="676.79" y2="794.45" style="stroke-width:1.5"/><line class="l" x1="624.85" y1="767.63" x2="665.27" y2="791.6" style="stroke-width:1.5"/><line class="l" x1="614.29" y1="762.17" x2="654.71" y2="786.14" style="stroke-width:1.5"/><line class="l" x1="604.98" y1="754.25" x2="645.4" y2="778.22" style="stroke-width:1.5"/><line class="l" x1="597.18" y1="744.08" x2="637.6" y2="768.05" style="stroke-width:1.5"/><line class="l" x1="591.09" y1="731.94" x2="631.51" y2="755.91" style="stroke-width:1.5"/><line class="l" x1="586.87" y1="718.15" x2="627.29" y2="742.12" style="stroke-width:1.5"/><line class="l" x1="584.65" y1="703.09" x2="625.07" y2="727.06" style="stroke-width:1.5"/><line class="l" x1="584.48" y1="687.16" x2="624.9" y2="711.13" style="stroke-width:1.5"/><line class="l" x1="586.37" y1="670.8" x2="626.79" y2="694.77" style="stroke-width:1.5"/><line class="l" x1="590.26" y1="654.44" x2="630.68" y2="678.41" style="stroke-width:1.5"/><line class="l" x1="596.05" y1="638.53" x2="636.47" y2="662.5" style="stroke-width:1.5"/><line class="l" x1="603.58" y1="623.5" x2="644" y2="647.47" style="stroke-width:1.5"/><line class="l" x1="612.65" y1="609.75" x2="653.07" y2="633.72" style="stroke-width:1.5"/><line class="l" x1="623.02" y1="597.66" x2="663.44" y2="621.63" style="stroke-width:1.5"/><line class="l" x1="634.41" y1="587.55" x2="674.83" y2="611.52" style="stroke-width:1.5"/><line class="l" x1="646.5" y1="579.7" x2="686.92" y2="603.67" style="stroke-width:1.5"/><line class="l" x1="658.97" y1="574.31" x2="699.39" y2="598.28" style="stroke-width:1.5"/><line class="l" x1="671.49" y1="571.54" x2="711.91" y2="595.51" style="stroke-width:1.5"/><line class="l" x1="683.71" y1="571.45" x2="724.13" y2="595.42" style="stroke-width:1.5"/><line class="l" x1="695.3" y1="574.06" x2="735.72" y2="598.03" style="stroke-width:1.5"/><line class="l" x1="705.96" y1="579.29" x2="746.38" y2="603.26" style="stroke-width:1.5"/><polygon class="o" points="768.66,719.63 760.77,723.95 762.96,733.15 754.93,736.07 755.99,745.9 747.99,747.35 747.91,757.61 740.1,757.56 738.87,768.04 731.41,766.5 729.06,776.99 722.1,773.98 718.68,784.27 712.36,779.86 707.94,789.74 702.39,784.01 697.06,793.27 692.39,786.35 686.26,794.81 682.56,786.83 675.76,794.31 673.11,785.43 665.77,791.79 664.23,782.2 656.5,787.3 656.1,777.19 648.14,780.93 648.88,770.51 640.85,772.81 642.72,762.3 634.79,763.11 637.75,752.71 630.07,752.02 634.07,741.94 626.8,739.77 631.75,730.23 625.04,726.61 630.84,717.79 624.82,712.81 631.35,704.89 626.16,698.64 633.29,691.79 629.02,684.4 636.6,678.75 633.34,670.37 641.23,666.05 639.04,656.85 647.07,653.93 646.01,644.1 654.01,642.65 654.09,632.39 661.9,632.44 663.13,621.96 670.59,623.5 672.94,613.01 679.9,616.02 683.32,605.73 689.64,610.14 694.06,600.26 699.61,605.99 704.94,596.73 709.61,603.65 715.74,595.19 719.44,603.17 726.24,595.69 728.89,604.57 736.23,598.21 737.77,607.8 745.5,602.7 745.9,612.81 753.86,609.07 753.12,619.49 761.15,617.19 759.28,627.7 767.21,626.89 764.25,637.29 771.93,637.98 767.93,648.06 775.2,650.23 770.25,659.77 776.96,663.39 771.16,672.21 777.18,677.19 770.65,685.11 775.84,691.36 768.71,698.21 772.98,705.6 765.4,711.25 768.66,719.63" style="stroke-width:1.2"/><ellipse class="o" cx="695" cy="692" rx="14" ry="22" transform="rotate(18 695 692)" /><ellipse class="o" cx="822" cy="765" rx="32" ry="44" transform="rotate(20 822 765)" /><ellipse class="o" cx="824" cy="767" rx="12" ry="17" transform="rotate(20 824 767)" /><polygon class="o" points="850.62,805.25 850.87,801.7 851.37,798.14 852.14,794.59 853.15,791.08 854.4,787.64 855.89,784.29 857.6,781.06 859.52,777.98 861.63,775.06 863.92,772.34 866.37,769.82 868.96,767.54 871.67,765.5 874.49,763.72 877.39,762.22 880.34,761.01 883.33,760.09 886.33,759.48 889.32,759.18 892.28,759.19 895.18,759.5 898.01,760.13 900.73,761.06 903.34,762.28 943.34,784.28 945.81,785.8 948.12,787.58 950.25,789.63 952.19,791.93 953.92,794.46 955.44,797.19 956.72,800.12 957.76,803.21 958.55,806.44 959.09,809.79 959.36,813.23 959.38,816.75 959.13,820.3 958.63,823.86 957.86,827.41 956.85,830.92 955.6,834.36 954.11,837.71 952.4,840.94 950.48,844.02 948.37,846.94 946.08,849.66 943.63,852.18 941.04,854.46 938.33,856.5 935.51,858.28 932.61,859.78 929.66,860.99 926.67,861.91 923.67,862.52 920.68,862.82 917.72,862.81 914.82,862.5 911.99,861.87 909.27,860.94 906.66,859.72 866.66,837.72 864.19,836.2 861.88,834.42 859.75,832.37 857.81,830.07 856.08,827.54 854.56,824.81 853.28,821.88 852.24,818.79 851.45,815.56 850.91,812.21 850.64,808.77" /><ellipse class="o" cx="925" cy="822" rx="33" ry="42" transform="rotate(22 925 822)" /><ellipse class="l" cx="927" cy="823" rx="26" ry="34" transform="rotate(22 927 823)" style="stroke-width:2.5"/><ellipse class="o" cx="928" cy="824" rx="9" ry="12" transform="rotate(22 928 824)" /></g>
<g transform="translate(340,230) scale(0.10328)"><polygon class="o" points="76.39,281.62 76.72,272.4 77.69,263.06 79.28,253.65 81.49,244.26 84.3,234.94 87.68,225.78 91.61,216.84 96.06,208.19 101,199.9 106.39,192.03 112.19,184.63 118.35,177.77 124.82,171.5 131.57,165.87 138.53,160.91 145.65,156.67 152.89,153.18 160.17,150.46 167.46,148.54 174.69,147.42 181.81,147.13 188.76,147.66 195.49,149 201.96,151.16 208.1,154.1 270.1,191.1 275.88,194.81 281.24,199.26 286.16,204.41 290.59,210.23 294.5,216.68 297.85,223.7 300.63,231.23 302.81,239.23 304.37,247.63 305.31,256.37 305.61,265.38 305.28,274.6 304.31,283.94 302.72,293.35 300.51,302.74 297.7,312.06 294.32,321.22 290.39,330.16 285.94,338.81 281,347.1 275.61,354.97 269.81,362.37 263.65,369.23 257.18,375.5 250.43,381.13 243.47,386.09 236.35,390.33 229.11,393.82 221.83,396.54 214.54,398.46 207.31,399.58 200.19,399.87 193.24,399.34 186.51,398 180.04,395.84 173.9,392.9 111.9,355.9 106.12,352.19 100.76,347.74 95.84,342.59 91.41,336.77 87.5,330.32 84.15,323.3 81.37,315.77 79.19,307.77 77.63,299.37 76.69,290.63" /><ellipse class="o" cx="222" cy="292" rx="78" ry="112" transform="rotate(22 222 292)" /><ellipse class="l" cx="225" cy="292" rx="60" ry="95" transform="rotate(22 225 292)" style="stroke-width:2.2"/><ellipse class="o" cx="228" cy="292" rx="50" ry="84" transform="rotate(22 228 292)" /><polygon class="o" points="242.9,455.64 243.1,433.89 244.76,411.77 247.86,389.43 252.39,367.06 258.3,344.82 265.56,322.89 274.1,301.42 283.86,280.58 294.78,260.53 306.76,241.43 319.71,223.41 333.53,206.63 348.13,191.19 363.39,177.22 379.19,164.84 395.41,154.12 411.93,145.15 428.62,138.01 445.36,132.74 462.02,129.39 478.47,127.98 494.59,128.52 510.25,131.01 525.34,135.43 539.73,141.74 630.03,195.29 643.63,203.46 656.32,213.4 668.02,225.06 678.63,238.33 688.06,253.13 696.26,269.33 703.15,286.81 708.69,305.45 712.83,325.09 715.54,345.6 716.8,366.81 716.6,388.56 714.94,410.68 711.84,433.02 707.31,455.39 701.4,477.63 694.14,499.56 685.6,521.03 675.84,541.87 664.92,561.92 652.94,581.02 639.99,599.04 626.17,615.82 611.57,631.26 596.31,645.23 580.51,657.61 564.29,668.33 547.77,677.3 531.08,684.44 514.34,689.71 497.68,693.06 481.23,694.47 465.11,693.93 449.45,691.44 434.36,687.02 419.97,680.71 329.67,627.16 316.07,618.99 303.38,609.05 291.68,597.39 281.07,584.12 271.64,569.32 263.44,553.12 256.55,535.64 251.01,517 246.87,497.36 244.16,476.85" style="fill:#f4f4f4"/><line class="l" x1="371.64" y1="640.03" x2="461.94" y2="693.58" style="stroke-width:1.5"/><line class="l" x1="347.27" y1="634.58" x2="437.57" y2="688.13" style="stroke-width:1.5"/><line class="l" x1="324.57" y1="624.36" x2="414.87" y2="677.91" style="stroke-width:1.5"/><line class="l" x1="303.96" y1="609.57" x2="394.26" y2="663.12" style="stroke-width:1.5"/><line class="l" x1="285.85" y1="590.47" x2="376.15" y2="644.02" style="stroke-width:1.5"/><line class="l" x1="270.58" y1="567.45" x2="360.88" y2="621" style="stroke-width:1.5"/><line class="l" x1="258.45" y1="540.94" x2="348.75" y2="594.49" style="stroke-width:1.5"/><line class="l" x1="249.67" y1="511.44" x2="339.97" y2="564.99" style="stroke-width:1.5"/><line class="l" x1="244.42" y1="479.52" x2="334.72" y2="533.07" style="stroke-width:1.5"/><line class="l" x1="242.81" y1="445.78" x2="333.11" y2="499.33" style="stroke-width:1.5"/><line class="l" x1="244.85" y1="410.88" x2="335.15" y2="464.43" style="stroke-width:1.5"/><line class="l" x1="250.52" y1="375.47" x2="340.82" y2="429.02" style="stroke-width:1.5"/><line class="l" x1="259.7" y1="340.23" x2="350" y2="393.78" style="stroke-width:1.5"/><line class="l" x1="272.22" y1="305.84" x2="362.52" y2="359.39" style="stroke-width:1.5"/><line class="l" x1="287.84" y1="272.94" x2="378.14" y2="326.49" style="stroke-width:1.5"/><line class="l" x1="306.26" y1="242.17" x2="396.56" y2="295.72" style="stroke-width:1.5"/><line class="l" x1="327.13" y1="214.12" x2="417.43" y2="267.67" style="stroke-width:1.5"/><line class="l" x1="350.05" y1="189.32" x2="440.35" y2="242.87" style="stroke-width:1.5"/><line class="l" x1="374.59" y1="168.24" x2="464.89" y2="221.79" style="stroke-width:1.5"/><line class="l" x1="400.27" y1="151.28" x2="490.57" y2="204.83" style="stroke-width:1.5"/><line class="l" x1="426.61" y1="138.77" x2="516.91" y2="192.32" style="stroke-width:1.5"/><line class="l" x1="453.11" y1="130.95" x2="543.41" y2="184.5" style="stroke-width:1.5"/><line class="l" x1="479.25" y1="127.96" x2="569.55" y2="181.51" style="stroke-width:1.5"/><line class="l" x1="504.55" y1="129.87" x2="594.85" y2="183.42" style="stroke-width:1.5"/><line class="l" x1="528.51" y1="136.64" x2="618.81" y2="190.19" style="stroke-width:1.5"/><line class="l" x1="550.68" y1="148.13" x2="640.98" y2="201.68" style="stroke-width:1.5"/><polygon class="o" points="694.14,499.56 678.56,509.9 681.99,529.13 666.03,537.12 667.54,557.37 651.45,562.89 651.01,583.87 635.02,586.84 632.65,608.24 616.99,608.62 612.72,630.12 597.62,627.91 591.5,649.21 577.18,644.44 569.32,665.22 555.99,657.95 546.49,677.91 534.34,668.26 523.35,687.11 512.56,675.21 500.23,692.67 490.96,678.7 477.48,694.52 469.86,678.67 455.41,692.62 449.56,675.14 434.36,687.02 430.36,668.16 414.64,677.78 412.54,657.81 396.52,665.05 396.36,644.26 380.27,649.01 382.05,627.7 366.14,629.88 369.84,608.38 354.32,607.97 359.88,586.57 344.99,583.57 352.33,562.6 338.29,557.05 347.3,536.81 334.31,528.79 344.86,509.57 333.11,499.21 345.05,481.3 334.71,468.74 347.86,452.39 339.08,437.82 353.25,423.27 346.16,406.9 361.15,394.37 355.86,376.44 371.44,366.1 368.01,346.87 383.97,338.88 382.46,318.63 398.55,313.11 398.99,292.13 414.98,289.16 417.35,267.76 433.01,267.38 437.28,245.88 452.38,248.09 458.5,226.79 472.82,231.56 480.68,210.78 494.01,218.05 503.51,198.09 515.66,207.74 526.65,188.89 537.44,200.79 549.77,183.33 559.04,197.3 572.52,181.48 580.14,197.33 594.59,183.38 600.44,200.86 615.64,188.98 619.64,207.84 635.36,198.22 637.46,218.19 653.48,210.95 653.64,231.74 669.73,226.99 667.95,248.3 683.86,246.12 680.16,267.62 695.68,268.03 690.12,289.43 705.01,292.43 697.67,313.4 711.71,318.95 702.7,339.19 715.69,347.21 705.14,366.43 716.89,376.79 704.95,394.7 715.29,407.26 702.14,423.61 710.92,438.18 696.75,452.73 703.84,469.1 688.85,481.63 694.14,499.56" style="stroke-width:1.2"/><ellipse class="o" cx="515" cy="440" rx="56" ry="86" transform="rotate(18 515 440)" /><path class="l" d="M 505,360 L 525,345 L 540,365" /><ellipse class="l" cx="735" cy="560" rx="58" ry="96" transform="rotate(22 735 560)" style="stroke-width:1.8"/><ellipse class="l" cx="740" cy="562" rx="44" ry="82" transform="rotate(22 740 562)" /><polygon class="o" points="808.44,668.27 808.6,661.66 809.22,654.95 810.3,648.21 811.84,641.48 813.82,634.82 816.22,628.27 819.04,621.89 822.24,615.72 825.81,609.82 829.72,604.21 833.93,598.96 838.41,594.1 843.14,589.66 848.07,585.68 853.17,582.19 858.39,579.21 863.7,576.78 869.07,574.9 874.43,573.59 879.77,572.87 885.03,572.73 890.18,573.18 895.17,574.21 899.97,575.83 904.54,578 984.54,628 988.85,630.73 992.87,633.98 996.55,637.73 999.89,641.96 1002.84,646.63 1005.39,651.7 1007.52,657.14 1009.22,662.91 1010.46,668.97 1011.24,675.25 1011.56,681.73 1011.4,688.34 1010.78,695.05 1009.7,701.79 1008.16,708.52 1006.18,715.18 1003.78,721.73 1000.96,728.11 997.76,734.28 994.19,740.18 990.28,745.79 986.07,751.04 981.59,755.9 976.86,760.34 971.93,764.32 966.83,767.81 961.61,770.79 956.3,773.22 950.93,775.1 945.57,776.41 940.23,777.13 934.97,777.27 929.82,776.82 924.83,775.79 920.03,774.17 915.46,772 835.46,722 831.15,719.27 827.13,716.02 823.45,712.27 820.11,708.04 817.16,703.37 814.61,698.3 812.48,692.86 810.78,687.09 809.54,681.03 808.76,674.75" /><ellipse class="o" cx="950" cy="700" rx="58" ry="80" transform="rotate(22 950 700)" /><ellipse class="l" cx="950" cy="700" rx="46" ry="66" transform="rotate(22 950 700)" style="stroke-width:3"/><ellipse class="o" cx="952" cy="702" rx="16" ry="24" transform="rotate(22 952 702)" /></g>
<g transform="translate(475,305) scale(0.12210)"><path class="o" d="M 200,275 C 270,190 390,110 490,78 C 520,70 545,75 560,90 L 600,110 C 640,120 672,140 668,200 C 690,300 695,480 672,600 C 660,680 610,760 560,800 C 480,880 370,960 270,990 C 230,1000 190,990 160,950 C 120,900 85,820 78,700 C 70,600 80,480 130,420 C 150,390 170,330 200,275 Z" /><path class="l" d="M 235,300 C 300,215 400,145 490,102 C 510,94 530,96 548,112" /><path class="l" d="M 130,470 C 105,560 105,760 135,885" style="stroke-width:1.6"/><path class="l" d="M 560,800 C 480,870 380,935 280,965" /><polygon class="o" points="550,100 640,120 672,150 662,250 640,272 590,255 560,230 555,130" /><ellipse class="o" cx="630" cy="188" rx="24" ry="36" /><polygon class="o" points="130,340 190,310 300,360 322,400 292,470 250,492 200,460 120,400" /><ellipse class="o" cx="242" cy="412" rx="24" ry="36" /><polygon class="o" points="560,650 610,620 660,650 672,700 640,752 590,746 545,715" /><ellipse class="o" cx="630" cy="702" rx="22" ry="30" /><polygon class="o" points="130,880 230,830 322,880 310,925 270,982 220,992 150,940" /><ellipse class="o" cx="240" cy="936" rx="24" ry="34" /><path class="o" d="M 360,420 C 350,340 420,290 480,320 C 520,340 530,390 560,410 C 600,390 650,420 630,490 C 615,540 560,560 540,580 C 545,650 500,710 440,705 C 370,700 330,620 350,540 C 355,500 365,460 360,420 Z" /><ellipse class="o" cx="432" cy="402" rx="30" ry="40" /><ellipse class="o" cx="580" cy="476" rx="22" ry="30" /><ellipse class="o" cx="436" cy="585" rx="82" ry="118" transform="rotate(15 436 585)" style="stroke-width:2.2"/><ellipse class="l" cx="442" cy="590" rx="64" ry="98" transform="rotate(15 442 590)" /><ellipse class="l" cx="446" cy="592" rx="52" ry="84" transform="rotate(15 446 592)" /><path class="o" d="M 370,640 L 440,630 L 460,670 L 400,690 Z" /><polyline class="d2" points="230,290 390,370" /></g>
<g transform="translate(290,415) scale(0.07984)"><path class="l" d="M 190,390 C 150,480 130,600 150,700" /><path class="l" d="M 230,400 C 190,480 175,600 185,700" /><path class="l" d="M 250,330 C 300,260 340,230 380,220" /><polygon class="o" points="316,166 368,154 488,346 438,378" style="stroke-width:1.2"/><polygon class="o" points="340,150 392,138 512,330 462,362" style="stroke-width:1.2"/><line class="l" x1="340" y1="150" x2="316" y2="166" /><line class="l" x1="392" y1="138" x2="368" y2="154" /><line class="l" x1="512" y1="330" x2="488" y2="346" /><line class="l" x1="462" y1="362" x2="438" y2="378" /><polygon class="o" points="474,108 511,82 598,138 576,316 508,346" style="stroke-width:1.2"/><polygon class="o" points="498,92 535,66 622,122 600,300 532,330" style="stroke-width:1.2"/><line class="l" x1="498" y1="92" x2="474" y2="108" /><line class="l" x1="535" y1="66" x2="511" y2="82" /><line class="l" x1="622" y1="122" x2="598" y2="138" /><line class="l" x1="600" y1="300" x2="576" y2="316" /><line class="l" x1="532" y1="330" x2="508" y2="346" /><polygon class="o" points="606,128 638,114 738,176 718,316 628,338" style="stroke-width:1.2"/><polygon class="o" points="630,112 662,98 762,160 742,300 652,322" style="stroke-width:1.2"/><line class="l" x1="630" y1="112" x2="606" y2="128" /><line class="l" x1="662" y1="98" x2="638" y2="114" /><line class="l" x1="762" y1="160" x2="738" y2="176" /><line class="l" x1="742" y1="300" x2="718" y2="316" /><line class="l" x1="652" y1="322" x2="628" y2="338" /><polygon class="o" points="718,266 806,316 776,408 628,428" style="stroke-width:1.2"/><polygon class="o" points="742,250 830,300 800,392 652,412" style="stroke-width:1.2"/><line class="l" x1="742" y1="250" x2="718" y2="266" /><line class="l" x1="830" y1="300" x2="806" y2="316" /><line class="l" x1="800" y1="392" x2="776" y2="408" /><line class="l" x1="652" y1="412" x2="628" y2="428" /><polygon class="o" points="126,308 176,316 378,456 356,488 146,368" style="stroke-width:1.2"/><polygon class="o" points="150,292 200,300 402,440 380,472 170,352" style="stroke-width:1.2"/><line class="l" x1="150" y1="292" x2="126" y2="308" /><line class="l" x1="200" y1="300" x2="176" y2="316" /><line class="l" x1="402" y1="440" x2="378" y2="456" /><line class="l" x1="380" y1="472" x2="356" y2="488" /><line class="l" x1="170" y1="352" x2="146" y2="368" /><polygon class="o" points="71,558 98,536 308,576 302,628 86,588" style="stroke-width:1.2"/><polygon class="o" points="95,542 122,520 332,560 326,612 110,572" style="stroke-width:1.2"/><line class="l" x1="95" y1="542" x2="71" y2="558" /><line class="l" x1="122" y1="520" x2="98" y2="536" /><line class="l" x1="332" y1="560" x2="308" y2="576" /><line class="l" x1="326" y1="612" x2="302" y2="628" /><line class="l" x1="110" y1="572" x2="86" y2="588" /><polygon class="o" points="51,758 258,696 298,716 278,758 76,808" style="stroke-width:1.2"/><polygon class="o" points="75,742 282,680 322,700 302,742 100,792" style="stroke-width:1.2"/><line class="l" x1="75" y1="742" x2="51" y2="758" /><line class="l" x1="282" y1="680" x2="258" y2="696" /><line class="l" x1="322" y1="700" x2="298" y2="716" /><line class="l" x1="302" y1="742" x2="278" y2="758" /><line class="l" x1="100" y1="792" x2="76" y2="808" /><polygon class="o" points="121,898 318,758 338,788 218,958" style="stroke-width:1.2"/><polygon class="o" points="145,882 342,742 362,772 242,942" style="stroke-width:1.2"/><line class="l" x1="145" y1="882" x2="121" y2="898" /><line class="l" x1="342" y1="742" x2="318" y2="758" /><line class="l" x1="362" y1="772" x2="338" y2="788" /><line class="l" x1="242" y1="942" x2="218" y2="958" /><polygon class="o" points="258,948 398,778 428,798 358,994" style="stroke-width:1.2"/><polygon class="o" points="282,932 422,762 452,782 382,978" style="stroke-width:1.2"/><line class="l" x1="282" y1="932" x2="258" y2="948" /><line class="l" x1="422" y1="762" x2="398" y2="778" /><line class="l" x1="452" y1="782" x2="428" y2="798" /><line class="l" x1="382" y1="978" x2="358" y2="994" /><ellipse class="o" cx="505" cy="560" rx="135" ry="168" transform="rotate(12 505 560)" /><ellipse class="o" cx="498" cy="565" rx="72" ry="112" transform="rotate(12 498 565)" /></g>
<g transform="translate(290,410) scale(0.14085)"><polygon class="o" points="295.64,497.3 296.29,483.04 297.81,468.5 300.21,453.79 303.45,439.02 307.53,424.3 312.39,409.75 318.02,395.47 324.36,381.58 331.37,368.18 338.99,355.37 347.16,343.25 355.84,331.91 364.93,321.44 374.39,311.92 384.13,303.42 394.09,296 404.18,289.73 414.33,284.64 424.46,280.79 434.5,278.19 444.36,276.87 453.98,276.83 463.29,278.08 472.2,280.61 480.65,284.4 736.65,412.4 744.58,417.42 751.92,423.63 758.63,430.99 764.65,439.43 769.93,448.9 774.44,459.32 778.14,470.61 781,482.69 783,495.46 784.12,508.84 784.36,522.7 783.71,536.96 782.19,551.5 779.79,566.21 776.55,580.98 772.47,595.7 767.61,610.25 761.98,624.53 755.64,638.42 748.63,651.82 741.01,664.63 732.84,676.75 724.16,688.09 715.07,698.56 705.61,708.08 695.87,716.58 685.91,724 675.82,730.27 665.67,735.36 655.54,739.21 645.5,741.81 635.64,743.13 626.02,743.17 616.71,741.92 607.8,739.39 599.35,735.6 343.35,607.6 335.42,602.58 328.08,596.37 321.37,589.01 315.35,580.57 310.07,571.1 305.56,560.68 301.86,549.39 299,537.31 297,524.54 295.88,511.16" /><ellipse class="o" cx="668" cy="574" rx="106" ry="176" transform="rotate(20 668 574)" /><ellipse class="l" cx="648" cy="562" rx="106" ry="176" transform="rotate(20 648 562)" /><path class="l" d="M 330,330 C 300,400 295,500 330,570" /><polygon class="o" points="630.3,643 630.39,634.26 631.01,625.26 632.15,616.07 633.81,606.76 635.97,597.39 638.62,588.05 641.74,578.79 645.3,569.7 649.28,560.84 653.64,552.28 658.35,544.08 663.39,536.3 668.7,529.01 674.25,522.26 679.99,516.11 685.89,510.59 691.89,505.75 697.96,501.63 704.04,498.25 710.1,495.65 716.07,493.85 721.92,492.85 727.61,492.67 733.08,493.31 738.31,494.75 743.24,497 843.24,545 847.84,548.04 852.08,551.83 855.92,556.35 859.34,561.58 862.3,567.46 864.8,573.95 866.79,581.01 868.28,588.57 869.25,596.59 869.7,605 869.61,613.74 868.99,622.74 867.85,631.93 866.19,641.24 864.03,650.61 861.38,659.95 858.26,669.21 854.7,678.3 850.72,687.16 846.36,695.72 841.65,703.92 836.61,711.7 831.3,718.99 825.75,725.74 820.01,731.89 814.11,737.41 808.11,742.25 802.04,746.37 795.96,749.75 789.9,752.35 783.93,754.15 778.08,755.15 772.39,755.33 766.92,754.69 761.69,753.25 756.76,751 656.76,703 652.16,699.96 647.92,696.17 644.08,691.65 640.66,686.42 637.7,680.54 635.2,674.05 633.21,666.99 631.72,659.43 630.75,651.41" /><ellipse class="o" cx="800" cy="648" rx="62" ry="112" transform="rotate(20 800 648)" /><ellipse class="l" cx="750" cy="624" rx="62" ry="112" transform="rotate(20 750 624)" /><polygon class="o" points="737.28,688.21 737.33,680.4 737.85,672.35 738.85,664.14 740.32,655.82 742.24,647.46 744.6,639.11 747.38,630.85 750.56,622.73 754.12,614.82 758.02,607.18 762.25,599.86 766.76,592.93 771.53,586.43 776.51,580.41 781.67,574.93 786.97,570.01 792.37,565.7 797.83,562.04 803.31,559.04 808.76,556.74 814.14,555.15 819.42,554.28 824.54,554.13 829.49,554.72 834.2,556.03 838.66,558.06 918.66,598.06 922.82,600.78 926.66,604.19 930.14,608.25 933.24,612.93 935.93,618.2 938.2,624.01 940.03,630.33 941.39,637.1 942.3,644.27 942.72,651.79 942.67,659.6 942.15,667.65 941.15,675.86 939.68,684.18 937.76,692.54 935.4,700.89 932.62,709.15 929.44,717.27 925.88,725.18 921.98,732.82 917.75,740.14 913.24,747.07 908.47,753.57 903.49,759.59 898.33,765.07 893.03,769.99 887.63,774.3 882.17,777.96 876.69,780.96 871.24,783.26 865.86,784.85 860.58,785.72 855.46,785.87 850.51,785.28 845.8,783.97 841.34,781.94 761.34,741.94 757.18,739.22 753.34,735.81 749.86,731.75 746.76,727.07 744.07,721.8 741.8,715.99 739.97,709.67 738.61,702.9 737.7,695.73" /><ellipse class="o" cx="880" cy="690" rx="56" ry="100" transform="rotate(20 880 690)" /><ellipse class="l" cx="882" cy="692" rx="44" ry="80" transform="rotate(20 882 692)" /><polygon class="o" points="862.19,708.42 862.33,706.16 862.6,703.86 863,701.52 863.53,699.18 864.19,696.84 864.96,694.53 865.86,692.26 866.86,690.04 867.96,687.9 869.15,685.86 870.42,683.92 871.77,682.11 873.18,680.43 874.64,678.9 876.14,677.53 877.67,676.33 879.22,675.31 880.78,674.48 882.33,673.84 883.86,673.4 885.36,673.17 886.82,673.14 888.23,673.31 889.58,673.69 984.58,715.69 985.85,716.27 987.04,717.04 988.14,718 989.14,719.15 990.03,720.47 990.81,721.95 991.47,723.59 992,725.36 992.4,727.26 992.67,729.28 992.81,731.39 992.81,733.58 992.67,735.84 992.4,738.14 992,740.48 991.47,742.82 990.81,745.16 990.04,747.47 989.14,749.74 988.14,751.96 987.04,754.1 985.85,756.14 984.58,758.08 983.23,759.89 981.82,761.57 980.36,763.1 978.86,764.47 977.33,765.67 975.78,766.69 974.22,767.52 972.67,768.16 971.14,768.6 969.64,768.83 968.18,768.86 966.77,768.69 965.42,768.31 870.42,726.31 869.15,725.73 867.96,724.96 866.86,724 865.86,722.85 864.97,721.53 864.19,720.05 863.53,718.41 863,716.64 862.6,714.74 862.33,712.72 862.19,710.61" /><ellipse class="o" cx="975" cy="742" rx="16" ry="28" transform="rotate(20 975 742)" /><polygon class="o" points="54.5,227.13 54.61,225.19 54.83,223.21 55.17,221.21 55.62,219.2 56.18,217.2 56.84,215.21 57.61,213.26 58.47,211.37 59.42,209.54 60.45,207.79 61.55,206.13 62.71,204.58 63.93,203.14 65.2,201.84 66.5,200.67 67.83,199.65 69.18,198.78 70.53,198.07 71.88,197.54 73.21,197.17 74.52,196.98 75.8,196.96 77.03,197.12 78.21,197.45 79.32,197.95 129.32,227.95 130.37,228.62 131.33,229.46 132.21,230.45 133,231.58 133.69,232.86 134.27,234.27 134.74,235.8 135.11,237.44 135.35,239.17 135.48,240.99 135.5,242.87 135.39,244.81 135.17,246.79 134.83,248.79 134.38,250.8 133.82,252.8 133.16,254.79 132.39,256.74 131.53,258.63 130.58,260.46 129.55,262.21 128.45,263.87 127.29,265.42 126.07,266.86 124.8,268.16 123.5,269.33 122.17,270.35 120.82,271.22 119.47,271.93 118.12,272.46 116.79,272.83 115.48,273.02 114.2,273.04 112.97,272.88 111.79,272.55 110.68,272.05 60.68,242.05 59.63,241.38 58.67,240.54 57.79,239.55 57,238.42 56.31,237.14 55.73,235.73 55.26,234.2 54.89,232.56 54.65,230.83 54.52,229.01" /><ellipse class="o" cx="120" cy="250" rx="14" ry="24" transform="rotate(20 120 250)" /></g>
<g transform="translate(160,300) scale(0.18779)"><polygon class="o" points="399.33,711.29 399.42,709.61 399.61,707.91 399.93,706.21 400.36,704.53 400.9,702.87 401.55,701.25 402.31,699.68 403.16,698.18 404.09,696.75 405.12,695.41 406.21,694.16 407.38,693.02 408.6,691.99 409.87,691.08 411.18,690.31 412.52,689.66 413.88,689.16 415.24,688.8 416.61,688.58 417.96,688.52 419.29,688.6 420.59,688.83 421.84,689.21 423.04,689.72 463.04,707.72 464.18,708.38 465.26,709.17 466.25,710.09 467.16,711.14 467.97,712.29 468.69,713.55 469.3,714.9 469.8,716.34 470.19,717.85 470.47,719.42 470.63,721.05 470.67,722.71 470.58,724.39 470.39,726.09 470.07,727.79 469.64,729.47 469.1,731.13 468.45,732.75 467.69,734.32 466.84,735.82 465.91,737.25 464.88,738.59 463.79,739.84 462.62,740.98 461.4,742.01 460.13,742.92 458.82,743.69 457.48,744.34 456.12,744.84 454.76,745.2 453.39,745.42 452.04,745.48 450.71,745.4 449.41,745.17 448.16,744.79 446.96,744.28 406.96,726.28 405.82,725.62 404.74,724.83 403.75,723.91 402.84,722.86 402.03,721.71 401.31,720.45 400.7,719.1 400.2,717.66 399.81,716.15 399.53,714.58 399.37,712.95" /><ellipse class="o" cx="455" cy="726" rx="15" ry="20" transform="rotate(20 455 726)" /><polygon class="o" points="509,667.02 509.01,661.09 509.43,655.07 510.24,648.99 511.45,642.91 513.05,636.86 515.02,630.9 517.34,625.07 520.01,619.41 522.99,613.97 526.27,608.79 529.82,603.91 533.62,599.36 537.64,595.18 541.84,591.41 546.19,588.07 550.66,585.18 555.22,582.77 559.83,580.86 564.46,579.45 569.07,578.57 573.63,578.22 578.09,578.4 582.44,579.11 586.63,580.34 590.63,582.09 620.63,598.09 624.41,600.34 627.95,603.07 631.21,606.27 634.17,609.91 636.82,613.96 639.12,618.39 641.07,623.16 642.64,628.25 643.82,633.61 644.61,639.2 645,644.98 644.99,650.91 644.57,656.93 643.76,663.01 642.55,669.09 640.95,675.14 638.98,681.1 636.66,686.93 633.99,692.59 631.01,698.03 627.73,703.21 624.18,708.09 620.38,712.64 616.36,716.82 612.16,720.59 607.81,723.93 603.34,726.82 598.78,729.23 594.17,731.14 589.54,732.55 584.93,733.43 580.37,733.78 575.91,733.6 571.56,732.89 567.37,731.66 563.37,729.91 533.37,713.91 529.59,711.66 526.05,708.93 522.79,705.73 519.83,702.09 517.18,698.04 514.88,693.61 512.93,688.84 511.36,683.75 510.18,678.39 509.39,672.8" /><ellipse class="o" cx="592" cy="664" rx="50" ry="72" transform="rotate(20 592 664)" /><ellipse class="l" cx="594" cy="666" rx="38" ry="56" transform="rotate(20 594 666)" /><ellipse class="l" cx="596" cy="667" rx="26" ry="40" transform="rotate(20 596 667)" style="stroke-width:2"/><ellipse class="o" cx="598" cy="668" rx="12" ry="20" transform="rotate(20 598 668)" /><polygon class="o" points="640.45,720.95 640.6,715.86 641.12,710.74 642.02,705.62 643.28,700.56 644.89,695.58 646.85,690.73 649.14,686.04 651.74,681.55 654.63,677.29 657.79,673.29 661.2,669.59 664.82,666.21 668.64,663.18 672.62,660.52 676.73,658.26 680.94,656.4 685.22,654.96 689.54,653.96 693.86,653.4 698.15,653.29 702.38,653.62 706.51,654.4 710.52,655.62 714.37,657.26 718.04,659.33 728.04,665.33 731.5,667.79 734.71,670.63 737.66,673.84 740.32,677.38 742.68,681.23 744.71,685.36 746.4,689.74 747.74,694.33 748.72,699.11 749.32,704.03 749.55,709.05 749.4,714.14 748.88,719.26 747.98,724.38 746.72,729.44 745.11,734.42 743.15,739.27 740.86,743.96 738.26,748.45 735.37,752.71 732.21,756.71 728.8,760.41 725.18,763.79 721.36,766.82 717.38,769.48 713.27,771.74 709.06,773.6 704.78,775.04 700.46,776.04 696.14,776.6 691.85,776.71 687.62,776.38 683.49,775.6 679.48,774.38 675.63,772.74 671.96,770.67 661.96,764.67 658.5,762.21 655.29,759.37 652.34,756.16 649.68,752.62 647.32,748.77 645.29,744.64 643.6,740.26 642.26,735.67 641.28,730.89 640.68,725.97" /><ellipse class="o" cx="700" cy="718" rx="48" ry="60" transform="rotate(20 700 718)" /><ellipse class="l" cx="700" cy="718" rx="34" ry="44" transform="rotate(20 700 718)" /><ellipse class="o" cx="700" cy="718" rx="16" ry="24" transform="rotate(20 700 718)" /></g>
<g transform="translate(280,400) scale(0.22535)"><polygon class="o" points="663.97,563.67 664,557.92 664.43,552.07 665.24,546.17 666.42,540.25 667.98,534.38 669.89,528.58 672.15,522.91 674.74,517.41 677.63,512.12 680.8,507.08 684.24,502.32 687.91,497.89 691.78,493.82 695.84,490.14 700.03,486.88 704.35,484.06 708.74,481.7 713.18,479.83 717.64,478.45 722.07,477.57 726.45,477.21 730.75,477.37 734.92,478.04 738.94,479.22 742.78,480.9 757.78,488.9 761.41,491.07 764.8,493.71 767.92,496.8 770.76,500.32 773.29,504.24 775.48,508.53 777.33,513.16 778.82,518.1 779.94,523.29 780.68,528.72 781.03,534.33 781,540.08 780.57,545.93 779.76,551.83 778.58,557.75 777.02,563.62 775.11,569.42 772.85,575.09 770.26,580.59 767.37,585.88 764.2,590.92 760.76,595.68 757.09,600.11 753.22,604.18 749.16,607.86 744.97,611.12 740.65,613.94 736.26,616.3 731.82,618.17 727.36,619.55 722.93,620.43 718.55,620.79 714.25,620.63 710.08,619.96 706.06,618.78 702.22,617.1 687.22,609.1 683.59,606.93 680.2,604.29 677.08,601.2 674.24,597.68 671.71,593.76 669.52,589.47 667.67,584.84 666.18,579.9 665.06,574.71 664.32,569.28" /><ellipse class="o" cx="730" cy="553" rx="48" ry="70" transform="rotate(20 730 553)" /><ellipse class="l" cx="733" cy="555" rx="30" ry="46" transform="rotate(20 733 555)" /><ellipse class="o" cx="735" cy="556" rx="14" ry="22" transform="rotate(20 735 556)" /><polygon class="o" points="707.48,679.81 707.53,678.29 707.7,676.75 707.98,675.22 708.36,673.7 708.84,672.21 709.43,670.76 710.11,669.35 710.89,668 711.74,666.72 712.68,665.51 713.69,664.4 714.75,663.38 715.88,662.46 717.05,661.65 718.26,660.96 719.5,660.4 720.75,659.96 722.02,659.65 723.29,659.47 724.54,659.42 725.78,659.51 726.99,659.73 728.16,660.09 764.16,673.09 765.28,673.57 766.35,674.17 767.35,674.9 768.28,675.74 769.14,676.69 769.91,677.75 770.59,678.89 771.17,680.12 771.66,681.43 772.04,682.8 772.31,684.22 772.47,685.69 772.52,687.19 772.47,688.71 772.3,690.25 772.02,691.78 771.64,693.3 771.16,694.79 770.57,696.24 769.89,697.65 769.11,699 768.26,700.28 767.32,701.49 766.31,702.6 765.25,703.62 764.12,704.54 762.95,705.35 761.74,706.04 760.5,706.6 759.25,707.04 757.98,707.35 756.71,707.53 755.46,707.58 754.22,707.49 753.01,707.27 751.84,706.91 715.84,693.91 714.72,693.43 713.65,692.83 712.65,692.1 711.72,691.26 710.86,690.31 710.09,689.25 709.41,688.11 708.83,686.88 708.34,685.57 707.96,684.2 707.69,682.78 707.53,681.31" /><ellipse class="o" cx="758" cy="690" rx="14" ry="18" transform="rotate(20 758 690)" /><polygon class="o" points="783.28,618.95 783.66,613.43 784.4,607.86 785.51,602.28 786.97,596.73 788.77,591.27 790.91,585.92 793.35,580.74 796.09,575.75 799.1,571 802.36,566.53 805.85,562.37 809.54,558.54 813.4,555.08 817.4,552.02 821.51,549.38 825.7,547.17 829.94,545.42 834.19,544.14 838.43,543.34 842.62,543.02 846.72,543.19 850.72,543.85 854.57,544.98 858.25,546.59 881.25,559.59 884.74,561.65 887.99,564.17 891,567.1 893.73,570.44 896.16,574.16 898.28,578.22 900.08,582.6 901.53,587.27 902.62,592.19 903.36,597.31 903.72,602.62 903.72,608.05 903.34,613.57 902.6,619.14 901.49,624.72 900.03,630.27 898.23,635.73 896.09,641.08 893.65,646.26 890.91,651.25 887.9,656 884.64,660.47 881.15,664.63 877.46,668.46 873.6,671.92 869.6,674.98 865.49,677.62 861.3,679.83 857.06,681.58 852.81,682.86 848.57,683.66 844.38,683.98 840.28,683.81 836.28,683.15 832.43,682.02 828.75,680.41 805.75,667.41 802.26,665.35 799.01,662.83 796,659.9 793.27,656.56 790.84,652.84 788.72,648.78 786.92,644.4 785.47,639.73 784.38,634.81 783.64,629.69 783.28,624.38" /><ellipse class="o" cx="855" cy="620" rx="46" ry="66" transform="rotate(20 855 620)" /><ellipse class="l" cx="857" cy="621" rx="34" ry="50" transform="rotate(20 857 621)" /><ellipse class="l" cx="858" cy="622" rx="22" ry="34" transform="rotate(20 858 622)" style="stroke-width:2"/><ellipse class="o" cx="860" cy="623" rx="10" ry="16" transform="rotate(20 860 623)" /></g>
<g transform="translate(230,530) scale(0.18776)"><ellipse class="o" cx="670" cy="72" rx="18" ry="26" transform="rotate(25 670 72)" /><polygon class="o" points="667.78,85.92 667.8,84.62 667.92,83.27 668.13,81.88 668.43,80.46 668.81,79.02 669.28,77.58 669.84,76.14 670.47,74.71 671.17,73.31 671.94,71.94 672.77,70.62 673.66,69.35 674.59,68.15 675.57,67.03 676.58,65.99 677.61,65.04 678.67,64.19 679.73,63.44 680.8,62.81 681.86,62.29 682.9,61.89 683.93,61.61 684.92,61.46 685.88,61.43 686.79,61.53 687.65,61.76 688.45,62.11 828.45,136.11 829.19,136.58 829.86,137.16 830.45,137.86 830.96,138.67 831.39,139.58 831.73,140.58 831.99,141.67 832.15,142.84 832.22,144.08 832.2,145.38 832.08,146.73 831.87,148.12 831.57,149.54 831.19,150.98 830.72,152.42 830.16,153.86 829.53,155.29 828.83,156.69 828.06,158.06 827.23,159.38 826.34,160.65 825.41,161.85 824.43,162.97 823.42,164.01 822.39,164.96 821.33,165.81 820.27,166.56 819.2,167.19 818.14,167.71 817.1,168.11 816.07,168.39 815.08,168.54 814.12,168.57 813.21,168.47 812.35,168.24 811.55,167.89 671.55,93.89 670.81,93.42 670.14,92.84 669.55,92.14 669.04,91.33 668.61,90.42 668.27,89.42 668.01,88.33 667.85,87.16" /><ellipse class="o" cx="820" cy="152" rx="10" ry="18" transform="rotate(28 820 152)" /><polygon class="k" points="803.96,156.7 804.03,155.55 804.17,154.35 804.4,153.13 804.71,151.88 805.1,150.61 805.57,149.35 806.1,148.08 806.71,146.83 807.37,145.61 808.1,144.42 808.88,143.27 809.7,142.17 810.57,141.13 811.46,140.16 812.39,139.26 813.33,138.45 814.29,137.72 815.25,137.09 816.22,136.56 817.17,136.12 818.1,135.8 819.02,135.58 819.9,135.47 820.74,135.47 821.54,135.58 822.29,135.81 822.99,136.14 947.99,208.14 948.62,208.57 949.19,209.11 949.69,209.74 950.11,210.47 950.46,211.29 950.73,212.19 950.92,213.16 951.02,214.2 951.04,215.3 950.97,216.45 950.83,217.65 950.6,218.87 950.29,220.12 949.9,221.39 949.43,222.65 948.9,223.92 948.29,225.17 947.63,226.39 946.9,227.58 946.12,228.73 945.3,229.83 944.43,230.87 943.54,231.84 942.61,232.74 941.67,233.55 940.71,234.28 939.75,234.91 938.78,235.44 937.83,235.88 936.9,236.2 935.98,236.42 935.1,236.53 934.26,236.53 933.46,236.42 932.71,236.19 932.01,235.86 807.01,163.86 806.38,163.43 805.81,162.89 805.31,162.26 804.89,161.53 804.54,160.71 804.27,159.81 804.08,158.84 803.98,157.8" style="fill:#2c2c2c"/><line class="l" x1="813.65" y1="163.99" x2="831.97" y2="145.01" style="stroke:#6a6a6a;stroke-width:1"/><line class="l" x1="821.46" y1="168.49" x2="839.79" y2="149.51" style="stroke:#6a6a6a;stroke-width:1"/><line class="l" x1="829.28" y1="172.99" x2="847.6" y2="154.01" style="stroke:#6a6a6a;stroke-width:1"/><line class="l" x1="837.09" y1="177.49" x2="855.41" y2="158.51" style="stroke:#6a6a6a;stroke-width:1"/><line class="l" x1="844.9" y1="181.99" x2="863.22" y2="163.01" style="stroke:#6a6a6a;stroke-width:1"/><line class="l" x1="852.71" y1="186.49" x2="871.04" y2="167.51" style="stroke:#6a6a6a;stroke-width:1"/><line class="l" x1="860.53" y1="190.99" x2="878.85" y2="172.01" style="stroke:#6a6a6a;stroke-width:1"/><line class="l" x1="868.34" y1="195.49" x2="886.66" y2="176.51" style="stroke:#6a6a6a;stroke-width:1"/><line class="l" x1="876.15" y1="199.99" x2="894.47" y2="181.01" style="stroke:#6a6a6a;stroke-width:1"/><line class="l" x1="883.96" y1="204.49" x2="902.29" y2="185.51" style="stroke:#6a6a6a;stroke-width:1"/><line class="l" x1="891.78" y1="208.99" x2="910.1" y2="190.01" style="stroke:#6a6a6a;stroke-width:1"/><line class="l" x1="899.59" y1="213.49" x2="917.91" y2="194.51" style="stroke:#6a6a6a;stroke-width:1"/><line class="l" x1="907.4" y1="217.99" x2="925.72" y2="199.01" style="stroke:#6a6a6a;stroke-width:1"/><line class="l" x1="915.21" y1="222.49" x2="933.54" y2="203.51" style="stroke:#6a6a6a;stroke-width:1"/><line class="l" x1="923.03" y1="226.99" x2="941.35" y2="208.01" style="stroke:#6a6a6a;stroke-width:1"/><ellipse class="o" cx="940" cy="222" rx="8" ry="14.72" transform="rotate(29.94 940 222)" /></g>
<g transform="translate(280,540) scale(0.11264)"><path class="o" d="M 240,200 L 490,75 L 520,90 L 540,140 L 650,200 L 665,220 C 680,280 690,400 670,520 L 660,600 C 640,700 580,780 520,830 L 500,870 L 400,950 L 230,1020 L 170,930 L 100,870 C 80,780 75,650 85,540 L 100,460 L 150,400 L 180,330 L 220,230 Z" /><path class="l" d="M 230,300 C 300,210 400,165 500,165 C 560,170 600,230 615,300" style="stroke-width:1.6"/><path class="l" d="M 100,500 C 90,620 100,760 160,870" style="stroke-width:1.6"/><path class="l" d="M 250,210 L 490,90" style="stroke-width:1.6"/><ellipse class="o" cx="440" cy="560" rx="195" ry="272" transform="rotate(25 440 560)" /><ellipse class="l" cx="445" cy="562" rx="178" ry="254" transform="rotate(25 445 562)" /><ellipse class="o" cx="450" cy="565" rx="165" ry="240" transform="rotate(25 450 565)" /><polygon class="o" points="540,140 620,170 660,210 640,250 560,220" /><polyline class="l" points="580,180 600,300" /><polyline class="l" points="620,200 630,300" /><polyline class="l" points="540,625 680,690" /><polyline class="l" points="545,640 670,700" /><polyline class="l" points="555,715 600,745" /><polygon class="o" points="160,880 250,840 330,870 310,930 230,960" /><polyline class="l" points="250,840 230,960" /><polyline class="l" points="185,330 340,420" style="stroke-width:3"/><polyline class="l" points="150,420 290,510" style="stroke-width:3"/><polyline class="l" points="180,930 230,1020" /></g>
<g transform="translate(230,530) scale(0.18776)"></g>
<g transform="translate(350,590) scale(0.13144)"><path class="o" d="M 150,290 C 200,170 300,100 400,80 L 460,78 L 740,232 L 900,420 L 880,560 L 800,700 L 700,800 L 560,870 L 470,842 L 390,800 L 150,660 C 115,620 100,560 98,470 L 40,462 L 40,400 L 80,380 L 100,380 C 110,340 125,310 150,290 Z" /><path class="l" d="M 160,300 C 210,180 310,110 410,92" /><path class="l" d="M 100,380 L 100,462" /><path class="l" d="M 120,382 L 390,532" /><path class="l" d="M 128,500 L 380,622" /><path class="l" d="M 130,530 L 250,560 L 260,600" /><path class="l" d="M 150,628 L 390,765" /><path class="l" d="M 250,100 L 280,80 L 300,120" /><path class="o" d="M 470,842 C 410,800 380,700 388,560 C 400,420 500,290 620,240 C 680,220 730,225 760,250" style="stroke-width:1.2"/><path class="l" d="M 480,820 C 425,780 402,690 410,565 C 422,430 515,305 628,258 C 680,240 722,245 748,262" /><path class="l" d="M 760,250 C 820,280 840,330 830,380" /><path class="o" d="M 560,520 C 560,420 640,340 720,330 C 800,330 880,400 880,470 C 870,560 800,620 700,640 C 620,640 560,600 560,520 Z" /><path class="o" d="M 470,560 C 470,490 500,460 530,470 C 560,490 565,560 560,640 C 555,690 530,710 505,700 C 480,680 470,630 470,560 Z" /><line class="l" x1="472" y1="486" x2="560" y2="474" style="stroke:#555"/><line class="l" x1="472" y1="502" x2="560" y2="490" style="stroke:#555"/><line class="l" x1="472" y1="518" x2="560" y2="506" style="stroke:#555"/><line class="l" x1="472" y1="534" x2="560" y2="522" style="stroke:#555"/><line class="l" x1="472" y1="550" x2="560" y2="538" style="stroke:#555"/><line class="l" x1="472" y1="566" x2="560" y2="554" style="stroke:#555"/><line class="l" x1="472" y1="582" x2="560" y2="570" style="stroke:#555"/><line class="l" x1="472" y1="598" x2="560" y2="586" style="stroke:#555"/><line class="l" x1="472" y1="614" x2="560" y2="602" style="stroke:#555"/><line class="l" x1="472" y1="630" x2="560" y2="618" style="stroke:#555"/><line class="l" x1="472" y1="646" x2="560" y2="634" style="stroke:#555"/><line class="l" x1="472" y1="662" x2="560" y2="650" style="stroke:#555"/><line class="l" x1="472" y1="678" x2="560" y2="666" style="stroke:#555"/><line class="l" x1="472" y1="694" x2="560" y2="682" style="stroke:#555"/><path class="o" d="M 640,300 C 720,310 820,360 905,440 L 900,470 C 830,420 740,380 650,360 Z" /><line class="l" x1="650" y1="305" x2="646" y2="362" style="stroke:#555"/><line class="l" x1="672" y1="313" x2="668" y2="371" style="stroke:#555"/><line class="l" x1="694" y1="321" x2="690" y2="380" style="stroke:#555"/><line class="l" x1="716" y1="329" x2="712" y2="389" style="stroke:#555"/><line class="l" x1="738" y1="337" x2="734" y2="398" style="stroke:#555"/><line class="l" x1="760" y1="345" x2="756" y2="407" style="stroke:#555"/><line class="l" x1="782" y1="353" x2="778" y2="416" style="stroke:#555"/><line class="l" x1="804" y1="361" x2="800" y2="425" style="stroke:#555"/><line class="l" x1="826" y1="369" x2="822" y2="434" style="stroke:#555"/><line class="l" x1="848" y1="377" x2="844" y2="443" style="stroke:#555"/><line class="l" x1="870" y1="385" x2="866" y2="452" style="stroke:#555"/><line class="l" x1="892" y1="393" x2="888" y2="461" style="stroke:#555"/><path class="o" d="M 490,720 L 560,730 L 560,800 L 500,800 Z" /><line class="l" x1="492" y1="735" x2="558" y2="728" style="stroke:#555"/><line class="l" x1="492" y1="749" x2="558" y2="742" style="stroke:#555"/><line class="l" x1="492" y1="763" x2="558" y2="756" style="stroke:#555"/><line class="l" x1="492" y1="777" x2="558" y2="770" style="stroke:#555"/><line class="l" x1="492" y1="791" x2="558" y2="784" style="stroke:#555"/><polygon class="o" points="505,390 550,365 580,385 575,430 535,450 505,430" /><line class="l" x1="575" y1="430" x2="635" y2="465" style="stroke-width:2.2"/><polygon class="o" points="715,715 760,690 795,710 790,750 750,770 715,750" /><line class="l" x1="790" y1="735" x2="832" y2="762" style="stroke-width:2.2"/><polygon class="o" points="700,255 745,235 780,255 778,295 735,310 700,290" /><ellipse class="o" cx="602" cy="308" rx="16" ry="20" /><polygon class="o" points="480,820 540,805 575,830 560,865 500,870" /><polygon class="k" points="579.7,777.58 579.77,775.54 580,773.46 580.38,771.36 580.91,769.24 581.58,767.13 582.39,765.05 583.34,763 584.41,761 585.6,759.07 586.91,757.23 588.31,755.48 589.8,753.84 591.37,752.33 593,750.95 594.69,749.71 596.41,748.63 598.17,747.71 599.94,746.97 601.71,746.39 603.46,746 605.19,745.79 606.88,745.76 608.52,745.92 610.1,746.26 611.59,746.78 613,747.48 713,807.48 714.31,808.35 715.51,809.39 716.59,810.58 717.55,811.92 718.37,813.4 719.05,815 719.59,816.72 719.98,818.54 720.22,820.44 720.3,822.42 720.23,824.46 720,826.54 719.62,828.64 719.09,830.76 718.42,832.87 717.61,834.95 716.66,837 715.59,839 714.4,840.93 713.09,842.77 711.69,844.52 710.2,846.16 708.63,847.67 707,849.05 705.31,850.29 703.59,851.37 701.83,852.29 700.06,853.03 698.29,853.61 696.54,854 694.81,854.21 693.12,854.24 691.48,854.08 689.9,853.74 688.41,853.22 687,852.52 587,792.52 585.69,791.65 584.49,790.61 583.41,789.42 582.45,788.08 581.63,786.6 580.95,785 580.41,783.28 580.02,781.46 579.78,779.56" style="fill:#444"/><line class="l" x1="612" y1="760" x2="600" y2="790" style="stroke:#aaa"/><line class="l" x1="628" y1="770" x2="616" y2="800" style="stroke:#aaa"/><line class="l" x1="644" y1="780" x2="632" y2="810" style="stroke:#aaa"/><line class="l" x1="660" y1="790" x2="648" y2="820" style="stroke:#aaa"/><line class="l" x1="676" y1="800" x2="664" y2="830" style="stroke:#aaa"/><line class="l" x1="692" y1="810" x2="680" y2="840" style="stroke:#aaa"/><ellipse class="l" cx="815" cy="150" rx="58" ry="62" style="stroke-width:2.6"/><polyline class="l" points="872,112 884,112 886,182 872,280 830,300 780,272" style="stroke-width:1.8"/><ellipse class="l" cx="660" cy="992" rx="56" ry="56" style="stroke-width:2.6"/><polyline class="l" points="610,950 592,885 555,862 525,842" style="stroke-width:1.8"/></g>
<g transform="translate(495,660) scale(0.10799)"><line class="l" x1="705" y1="178" x2="940" y2="32" /><polygon class="o" points="71.77,254.6 71.92,252.21 72.25,249.76 72.75,247.28 73.42,244.79 74.26,242.29 75.25,239.81 76.39,237.38 77.68,235 79.1,232.7 80.63,230.49 82.28,228.39 84.03,226.42 85.85,224.59 87.75,222.92 89.7,221.41 91.69,220.08 93.71,218.95 95.74,218.01 97.76,217.27 99.76,216.75 101.73,216.44 103.64,216.35 105.49,216.48 107.26,216.82 108.93,217.38 110.5,218.15 315.5,335.15 316.95,336.13 318.27,337.3 319.45,338.66 320.49,340.19 321.37,341.89 322.08,343.75 322.63,345.74 323.01,347.86 323.21,350.09 323.23,352.4 323.08,354.79 322.75,357.24 322.25,359.72 321.58,362.21 320.74,364.71 319.75,367.19 318.61,369.62 317.32,372 315.9,374.3 314.37,376.51 312.72,378.61 310.97,380.58 309.15,382.41 307.25,384.08 305.3,385.59 303.31,386.92 301.29,388.05 299.26,388.99 297.24,389.73 295.24,390.25 293.27,390.56 291.36,390.65 289.51,390.52 287.74,390.18 286.07,389.62 284.5,388.85 79.5,271.85 78.05,270.87 76.73,269.7 75.55,268.34 74.51,266.81 73.63,265.11 72.92,263.25 72.37,261.26 71.99,259.14 71.79,256.91" /><ellipse class="o" cx="95" cy="245" rx="20" ry="31" transform="rotate(30 95 245)" /><polygon class="o" points="628.76,195.55 628.86,193.8 629.07,192.14 629.41,190.58 629.87,189.12 630.45,187.79 631.13,186.58 631.92,185.52 632.81,184.61 633.79,183.85 634.86,183.25 694.86,154.25 696,153.82 697.21,153.55 698.49,153.46 699.81,153.54 701.17,153.79 702.56,154.2 703.97,154.79 705.39,155.53 706.8,156.44 708.2,157.49 709.58,158.68 710.92,160 712.21,161.45 713.45,163 714.63,164.66 715.73,166.4 716.76,168.21 717.69,170.08 718.52,172 719.26,173.95 719.88,175.91 720.39,177.88 720.79,179.83 721.06,181.75 721.21,183.63 721.24,185.45 721.14,187.2 720.93,188.86 720.59,190.42 720.13,191.88 719.55,193.21 718.87,194.42 718.08,195.48 717.19,196.39 716.21,197.15 715.14,197.75 655.14,226.75 654,227.18 652.79,227.45 651.51,227.54 650.19,227.46 648.83,227.21 647.44,226.8 646.03,226.21 644.61,225.47 643.2,224.56 641.8,223.51 640.42,222.32 639.08,221 637.79,219.55 636.55,218 635.37,216.34 634.27,214.6 633.24,212.79 632.31,210.92 631.48,209 630.74,207.05 630.12,205.09 629.61,203.12 629.21,201.17 628.94,199.25 628.79,197.37" /><ellipse class="o" cx="705" cy="176" rx="14" ry="24" transform="rotate(-25 705 176)" /><polygon class="o" points="430.91,248.86 431.51,240.34 432.74,232.1 434.6,224.21 437.06,216.73 440.13,209.71 443.76,203.22 447.93,197.3 452.62,191.99 457.78,187.33 463.37,183.36 469.36,180.12 569.36,134.12 575.69,131.62 582.33,129.88 589.21,128.92 596.29,128.75 603.51,129.36 610.82,130.75 618.16,132.91 625.48,135.83 632.71,139.48 639.81,143.83 646.73,148.85 653.4,154.51 659.78,160.76 665.82,167.55 671.47,174.83 676.69,182.54 681.44,190.63 685.69,199.04 689.4,207.69 692.54,216.53 695.1,225.49 697.04,234.5 698.36,243.49 699.04,252.39 699.09,261.14 698.49,269.66 697.26,277.9 695.4,285.79 692.94,293.27 689.87,300.29 686.24,306.78 682.07,312.7 677.38,318.01 672.22,322.67 666.63,326.64 660.64,329.88 560.64,375.88 554.31,378.38 547.67,380.12 540.79,381.08 533.71,381.25 526.49,380.64 519.18,379.25 511.84,377.09 504.52,374.17 497.29,370.52 490.19,366.17 483.27,361.15 476.6,355.49 470.22,349.24 464.18,342.45 458.53,335.17 453.31,327.46 448.56,319.37 444.31,310.96 440.6,302.31 437.46,293.47 434.9,284.51 432.96,275.5 431.64,266.51 430.96,257.61" /><ellipse class="o" cx="515" cy="278" rx="78" ry="108" transform="rotate(-25 515 278)" /><line class="l" x1="511.45" y1="191.94" x2="610.82" y2="130.75" style="stroke-width:1.6"/><line class="l" x1="538.46" y1="204.7" x2="642.61" y2="145.76" style="stroke-width:1.6"/><line class="l" x1="562.07" y1="228.13" x2="670.37" y2="173.33" style="stroke-width:1.6"/><line class="l" x1="578.81" y1="258.83" x2="690.08" y2="209.45" style="stroke-width:1.6"/><line class="l" x1="586.27" y1="292.32" x2="698.85" y2="248.85" style="stroke-width:1.6"/><line class="l" x1="583.34" y1="323.72" x2="695.4" y2="285.79" style="stroke-width:1.6"/><line class="l" x1="570.47" y1="348.47" x2="680.25" y2="314.9" style="stroke-width:1.6"/><ellipse class="l" cx="515" cy="278" rx="62" ry="90" transform="rotate(-25 515 278)" /><polygon class="o" points="239.53,401.6 239.64,397.16 240.06,392.89 240.79,388.82 241.81,385 243.13,381.43 244.72,378.17 246.58,375.22 248.7,372.61 251.06,370.36 253.63,368.49 493.63,240.49 496.41,239.01 499.37,237.94 502.48,237.28 505.73,237.03 509.08,237.2 512.52,237.79 516.01,238.79 519.54,240.2 523.07,242 526.57,244.18 530.03,246.72 533.41,249.61 536.69,252.83 539.84,256.34 542.84,260.12 545.66,264.14 548.29,268.38 550.71,272.8 552.89,277.36 554.82,282.03 556.48,286.78 557.87,291.57 558.97,296.36 559.78,301.12 560.28,305.81 560.47,310.4 560.36,314.84 559.94,319.11 559.21,323.18 558.19,327 556.87,330.57 555.28,333.83 553.42,336.78 551.3,339.39 548.94,341.64 546.37,343.51 306.37,471.51 303.59,472.99 300.63,474.06 297.52,474.72 294.27,474.97 290.92,474.8 287.48,474.21 283.99,473.21 280.46,471.8 276.93,470 273.43,467.82 269.97,465.28 266.59,462.39 263.31,459.17 260.16,455.66 257.16,451.88 254.34,447.86 251.71,443.62 249.29,439.2 247.11,434.64 245.18,429.97 243.52,425.22 242.13,420.43 241.03,415.64 240.22,410.88 239.72,406.19" /><ellipse class="o" cx="280" cy="420" rx="36" ry="58" transform="rotate(-24 280 420)" /><polygon class="o" points="348.77,411.6 348.92,409.21 349.25,406.76 349.75,404.28 350.42,401.79 351.26,399.29 352.25,396.81 353.39,394.38 354.68,392 356.1,389.7 357.63,387.49 359.28,385.39 361.03,383.42 362.85,381.59 364.75,379.92 366.7,378.41 368.69,377.08 370.71,375.95 372.74,375.01 374.76,374.27 376.76,373.75 378.73,373.44 380.64,373.35 382.49,373.48 384.26,373.82 385.93,374.38 387.5,375.15 980.5,725.15 981.95,726.13 983.27,727.3 984.45,728.66 985.49,730.19 986.37,731.89 987.08,733.75 987.63,735.74 988.01,737.86 988.21,740.09 988.23,742.4 988.08,744.79 987.75,747.24 987.25,749.72 986.58,752.21 985.74,754.71 984.75,757.19 983.61,759.62 982.32,762 980.9,764.3 979.37,766.51 977.72,768.61 975.97,770.58 974.15,772.41 972.25,774.08 970.3,775.59 968.31,776.92 966.29,778.05 964.26,778.99 962.24,779.73 960.24,780.25 958.27,780.56 956.36,780.65 954.51,780.52 952.74,780.18 951.07,779.62 949.5,778.85 356.5,428.85 355.05,427.87 353.73,426.7 352.55,425.34 351.51,423.81 350.63,422.11 349.92,420.25 349.37,418.26 348.99,416.14 348.79,413.91" /><ellipse class="o" cx="965" cy="752" rx="20" ry="31" transform="rotate(30 965 752)" /><ellipse class="o" cx="375" cy="404" rx="20" ry="31" transform="rotate(30 375 404)" /><polyline class="l" points="240,400 270,395" style="stroke-width:2.5"/><polyline class="l" points="255,430 290,425" style="stroke-width:2.5"/><polyline class="l" points="235,325 265,310" style="stroke-width:2.5"/></g>
<g transform="translate(560,250) scale(0.25349)"><polygon class="o" points="190,100 215,85 262,88 275,110 272,135 250,150 205,148 188,128" /><polyline class="l" points="190,100 208,112 262,112 275,110" /><polyline class="l" points="208,112 205,148" /><polyline class="l" points="262,112 250,150" /><path class="g" d="M 205,150 L 205,312 C 210,325 248,325 255,312 L 255,150 Z" style="fill:#555"/><line class="l" x1="206" y1="158" x2="254" y2="162" style="stroke:#aaa"/><line class="l" x1="206" y1="168" x2="254" y2="172" style="stroke:#aaa"/><line class="l" x1="206" y1="178" x2="254" y2="182" style="stroke:#aaa"/><line class="l" x1="206" y1="188" x2="254" y2="192" style="stroke:#aaa"/><line class="l" x1="206" y1="198" x2="254" y2="202" style="stroke:#aaa"/><line class="l" x1="206" y1="208" x2="254" y2="212" style="stroke:#aaa"/><line class="l" x1="206" y1="218" x2="254" y2="222" style="stroke:#aaa"/><line class="l" x1="206" y1="228" x2="254" y2="232" style="stroke:#aaa"/><line class="l" x1="206" y1="238" x2="254" y2="242" style="stroke:#aaa"/><line class="l" x1="206" y1="248" x2="254" y2="252" style="stroke:#aaa"/><line class="l" x1="206" y1="258" x2="254" y2="262" style="stroke:#aaa"/><line class="l" x1="206" y1="268" x2="254" y2="272" style="stroke:#aaa"/><line class="l" x1="206" y1="278" x2="254" y2="282" style="stroke:#aaa"/><line class="l" x1="206" y1="288" x2="254" y2="292" style="stroke:#aaa"/><line class="l" x1="206" y1="298" x2="254" y2="302" style="stroke:#aaa"/><line class="l" x1="206" y1="308" x2="254" y2="312" style="stroke:#aaa"/></g>
<g transform="translate(570,340) scale(0.16906)"><ellipse class="o" cx="270" cy="845" rx="255" ry="120" /><ellipse class="o" cx="270" cy="830" rx="255" ry="120" /><path class="g" d="M 240,972 C 250,1000 300,1000 310,972 Z" /><ellipse class="o" cx="280" cy="780" rx="125" ry="55" /><path class="o" d="M 165,140 C 165,220 175,260 170,300 C 160,420 160,600 170,770 C 230,800 330,800 400,770 C 410,600 405,420 392,300 C 388,260 395,220 395,140 Z" /><path class="l" d="M 170,255 C 240,305 330,305 390,262" /><ellipse class="l" cx="280" cy="135" rx="115" ry="55" style="stroke-width:1.7"/><ellipse class="o" cx="282" cy="142" rx="98" ry="44" /><path class="o" d="M 210,305 C 250,340 300,360 355,367 L 352,387 C 295,380 240,360 212,335 Z" style="stroke-width:1.7"/><path class="o" d="M 210,403 C 250,438 300,458 355,465 L 352,485 C 295,478 240,458 212,433 Z" style="stroke-width:1.7"/><path class="o" d="M 210,501 C 250,536 300,556 355,563 L 352,583 C 295,576 240,556 212,531 Z" style="stroke-width:1.7"/><path class="o" d="M 210,599 C 250,634 300,654 355,661 L 352,681 C 295,674 240,654 212,629 Z" style="stroke-width:1.7"/><path class="o" d="M 210,697 C 250,732 300,752 355,759 L 352,779 C 295,772 240,752 212,727 Z" style="stroke-width:1.7"/><polygon class="o" points="290,315 315,303 325,323 300,335" style="stroke-width:1.5"/><polygon class="o" points="240,377 265,365 275,385 250,397" style="stroke-width:1.5"/><polygon class="o" points="290,413 315,401 325,421 300,433" style="stroke-width:1.5"/><polygon class="o" points="240,475 265,463 275,483 250,495" style="stroke-width:1.5"/><polygon class="o" points="290,511 315,499 325,519 300,531" style="stroke-width:1.5"/><polygon class="o" points="240,573 265,561 275,581 250,593" style="stroke-width:1.5"/><polygon class="o" points="290,609 315,597 325,617 300,629" style="stroke-width:1.5"/><polygon class="o" points="240,671 265,659 275,679 250,691" style="stroke-width:1.5"/><polygon class="o" points="290,707 315,695 325,715 300,727" style="stroke-width:1.5"/><polygon class="o" points="240,769 265,757 275,777 250,789" style="stroke-width:1.5"/><polygon class="k" points="553,705 553.16,703.26 553.64,701.53 554.43,699.82 555.53,698.16 556.94,696.55 558.63,695 560.6,693.53 562.83,692.14 565.3,690.86 568,689.68 570.91,688.62 574,687.68 577.25,686.87 580.64,686.21 584.13,685.68 587.71,685.3 591.34,685.08 595,685 598.66,685.08 602.29,685.3 605.87,685.68 609.36,686.21 612.75,686.87 616,687.68 619.09,688.62 622,689.68 624.7,690.86 627.17,692.14 629.4,693.53 631.37,695 633.06,696.55 634.47,698.16 635.57,699.82 636.36,701.53 636.84,703.26 637,705 637,768 636.84,769.74 636.36,771.47 635.57,773.18 634.47,774.84 633.06,776.45 631.37,778 629.4,779.47 627.17,780.86 624.7,782.14 622,783.32 619.09,784.38 616,785.32 612.75,786.13 609.36,786.79 605.87,787.32 602.29,787.7 598.66,787.92 595,788 591.34,787.92 587.71,787.7 584.13,787.32 580.64,786.79 577.25,786.13 574,785.32 570.91,784.38 568,783.32 565.3,782.14 562.83,780.86 560.6,779.47 558.63,778 556.94,776.45 555.53,774.84 554.43,773.18 553.64,771.47 553.16,769.74 553,768" /><line class="l" x1="555" y1="718" x2="637" y2="718" style="stroke:#bbb"/><line class="l" x1="555" y1="727" x2="637" y2="727" style="stroke:#bbb"/><line class="l" x1="555" y1="736" x2="637" y2="736" style="stroke:#bbb"/><line class="l" x1="555" y1="745" x2="637" y2="745" style="stroke:#bbb"/><line class="l" x1="555" y1="754" x2="637" y2="754" style="stroke:#bbb"/><line class="l" x1="555" y1="763" x2="637" y2="763" style="stroke:#bbb"/><ellipse class="o" cx="595" cy="705" rx="42" ry="22" /><line class="l" x1="580" y1="712" x2="610" y2="698" style="stroke-width:3"/><polygon class="o" points="565,905 630,905 630,1010 600,1022 565,1010" /><polyline class="l" points="565,955 600,965 630,955" /><polyline class="l" points="600,965 600,1022" /><polygon class="k" points="565,880 565.12,878.61 565.49,877.22 566.09,875.86 566.93,874.53 568,873.24 569.29,872 570.79,870.82 572.49,869.72 574.37,868.69 576.43,867.74 578.65,866.89 581,866.14 583.48,865.5 586.06,864.96 588.72,864.55 591.44,864.24 594.21,864.06 597,864 599.79,864.06 602.56,864.24 605.28,864.55 607.94,864.96 610.52,865.5 613,866.14 615.35,866.89 617.57,867.74 619.63,868.69 621.51,869.72 623.21,870.82 624.71,872 626,873.24 627.07,874.53 627.91,875.86 628.51,877.22 628.88,878.61 629,880 629,930 628.88,931.39 628.51,932.78 627.91,934.14 627.07,935.47 626,936.76 624.71,938 623.21,939.18 621.51,940.28 619.63,941.31 617.57,942.26 615.35,943.11 613,943.86 610.52,944.5 607.94,945.04 605.28,945.45 602.56,945.76 599.79,945.94 597,946 594.21,945.94 591.44,945.76 588.72,945.45 586.06,945.04 583.48,944.5 581,943.86 578.65,943.11 576.43,942.26 574.37,941.31 572.49,940.28 570.79,939.18 569.29,938 568,936.76 566.93,935.47 566.09,934.14 565.49,932.78 565.12,931.39 565,930" /><ellipse class="g" cx="597" cy="880" rx="32" ry="16" /></g>
<g transform="translate(540,510) scale(0.16900)"><path class="o" d="M 155,190 C 200,140 280,90 350,62 L 420,75 L 990,440 C 1030,470 1048,560 1045,640 C 1042,760 1020,880 960,955 C 900,1000 830,1012 770,1010 L 560,985 L 540,1010 L 500,1005 L 450,985 L 380,935 C 350,920 320,905 290,895 L 170,822 L 150,760 L 110,700 C 80,680 62,620 60,550 L 60,400 C 62,350 75,300 85,262 Z" /><path class="l" d="M 95,250 C 120,220 200,228 240,262 C 262,292 252,340 230,356 C 180,362 120,332 95,300" /><path class="l" d="M 75,330 C 200,395 400,475 560,545 C 640,580 720,592 760,580" /><path class="l" d="M 155,190 C 260,240 450,335 620,430 C 700,475 750,540 760,580" /><path class="l" d="M 760,580 C 748,660 745,800 760,1005" /><path class="l" d="M 760,575 C 800,505 900,462 995,452" /><path class="d" d="M 300,290 L 430,342" style="stroke-dasharray:6 3"/><path class="d" d="M 235,420 L 370,488" style="stroke-dasharray:6 3"/><path class="l" d="M 400,75 L 440,95" /><polygon class="l" points="135,490 460,640 460,765 135,612" /><path class="o" d="M 540,640 C 560,615 620,608 692,620 L 692,942 C 640,950 570,900 545,860 C 530,800 530,700 540,640 Z" style="stroke-width:1.6"/><line class="l" x1="548" y1="635" x2="690" y2="643" style="stroke-width:1.5"/><line class="l" x1="548" y1="653" x2="690" y2="661" style="stroke-width:1.5"/><line class="l" x1="548" y1="671" x2="690" y2="679" style="stroke-width:1.5"/><line class="l" x1="548" y1="689" x2="690" y2="697" style="stroke-width:1.5"/><line class="l" x1="548" y1="707" x2="690" y2="715" style="stroke-width:1.5"/><line class="l" x1="548" y1="725" x2="690" y2="733" style="stroke-width:1.5"/><line class="l" x1="548" y1="743" x2="690" y2="751" style="stroke-width:1.5"/><line class="l" x1="548" y1="761" x2="690" y2="769" style="stroke-width:1.5"/><line class="l" x1="548" y1="779" x2="690" y2="787" style="stroke-width:1.5"/><line class="l" x1="548" y1="797" x2="690" y2="805" style="stroke-width:1.5"/><line class="l" x1="548" y1="815" x2="690" y2="823" style="stroke-width:1.5"/><line class="l" x1="548" y1="833" x2="690" y2="841" style="stroke-width:1.5"/><line class="l" x1="548" y1="851" x2="690" y2="859" style="stroke-width:1.5"/><line class="l" x1="548" y1="869" x2="690" y2="877" style="stroke-width:1.5"/><line class="l" x1="548" y1="887" x2="690" y2="895" style="stroke-width:1.5"/><line class="l" x1="548" y1="905" x2="690" y2="913" style="stroke-width:1.5"/><line class="l" x1="548" y1="923" x2="690" y2="931" style="stroke-width:1.5"/><ellipse class="o" cx="920" cy="672" rx="128" ry="125" /><ellipse class="l" cx="925" cy="670" rx="110" ry="110" /><ellipse class="l" cx="935" cy="668" rx="96" ry="100" style="stroke-width:1.6"/><polygon class="o" points="878,640 985,592 1002,702 900,752" /><polygon class="l" points="900,650 975,615 985,690 912,725" /><line class="l" x1="905" y1="660" x2="980" y2="628" /><line class="l" x1="905" y1="675" x2="980" y2="643" /><line class="l" x1="905" y1="690" x2="980" y2="658" /><line class="l" x1="905" y1="705" x2="980" y2="673" /><line class="l" x1="835" y1="858" x2="935" y2="818" style="stroke-width:2.2"/><line class="l" x1="835" y1="878" x2="935" y2="838" style="stroke-width:2.2"/><line class="l" x1="835" y1="898" x2="935" y2="858" style="stroke-width:2.2"/><line class="l" x1="835" y1="918" x2="935" y2="878" style="stroke-width:2.2"/><line class="l" x1="835" y1="938" x2="935" y2="898" style="stroke-width:2.2"/><line class="l" x1="835" y1="958" x2="935" y2="918" style="stroke-width:2.2"/><line class="l" x1="835" y1="978" x2="935" y2="938" style="stroke-width:2.2"/><ellipse class="o" cx="450" cy="215" rx="112" ry="70" /><ellipse class="l" cx="450" cy="200" rx="80" ry="48" /><ellipse class="o" cx="448" cy="160" rx="65" ry="42" /><ellipse class="l" cx="448" cy="158" rx="46" ry="30" style="stroke-width:3"/><ellipse class="o" cx="448" cy="158" rx="30" ry="20" /><ellipse class="o" cx="770" cy="410" rx="56" ry="35" /><ellipse class="l" cx="772" cy="428" rx="44" ry="20" /><polygon class="o" points="760,520 788,506 794,522 766,536" /><polygon class="o" points="793,503 821,489 827,505 799,519" /><polygon class="o" points="826,486 854,472 860,488 832,502" /><polygon class="o" points="859,469 887,455 893,471 865,485" /><polygon class="o" points="892,452 920,438 926,454 898,468" /><polygon class="o" points="925,435 953,421 959,437 931,451" /><path class="l" d="M 150,760 C 180,740 210,745 240,770" /></g>
<g transform="translate(545,620) scale(0.09390)"><path class="o" d="M 100,20 C 95,0 110,-10 130,0 L 320,110 C 345,125 345,165 320,172 C 300,178 280,170 260,160 L 120,80 C 105,65 100,40 100,20 Z" /><polyline class="l" points="235,130 240,300 880,650" /><polyline class="l" points="250,330 860,670" /><path class="o" d="M 430,420 C 470,330 560,320 610,380 C 650,430 650,520 620,570 C 580,610 510,570 480,500 C 460,470 440,440 430,420 Z" /><path class="l" d="M 480,430 C 500,470 540,490 560,480" /><polygon class="o" points="250,305 330,220 410,270 400,410 330,370 250,340" style="stroke-width:2"/><polyline class="l" points="330,220 330,370" style="stroke-width:1.6"/><polyline class="l" points="270,330 390,290 390,390 270,330" style="stroke-width:1.6"/><polyline class="l" points="340,240 400,280" style="stroke-width:2"/><polygon class="o" points="630,515 710,430 790,480 780,620 710,580 630,550" style="stroke-width:2"/><polyline class="l" points="710,430 710,580" style="stroke-width:1.6"/><polyline class="l" points="650,540 770,500 770,600 650,540" style="stroke-width:1.6"/><polyline class="l" points="720,450 780,490" style="stroke-width:2"/><path class="l" d="M 850,400 C 880,440 900,500 895,560" /><path class="l" d="M 860,560 C 870,600 900,650 940,660 L 1060,600" /></g>
<g transform="translate(540,510) scale(0.16900)"></g>
<g transform="translate(540,510) scale(0.16900)"><path class="o" d="M 712,95 L 715,235 C 730,255 810,255 828,235 L 830,95 Z" /><polyline class="l" points="715,170 770,185 830,170" /><path class="o" d="M 738,250 L 742,275 C 760,290 800,288 805,275 L 808,250" /><ellipse class="o" cx="771" cy="95" rx="59" ry="30" /><ellipse class="g" cx="771" cy="95" rx="40" ry="20" /></g>
<g transform="translate(410,740) scale(0.19720)"></g>
<g transform="translate(495,750) scale(0.17825)"><path class="o" d="M 40,85 L 150,25 L 200,20 L 240,35 L 510,195 C 525,205 530,220 530,240 L 528,290 L 470,330 L 440,345 L 425,360 L 430,900 C 425,960 410,1000 380,1030 L 355,1035 C 330,1020 300,1010 270,1000 L 200,950 C 180,920 175,890 180,870 C 195,840 210,830 215,820 L 205,720 L 185,600 L 170,520 C 185,495 200,485 210,480 L 210,330 L 190,300 C 150,280 110,270 80,260 L 50,240 C 40,200 38,140 40,85 Z" style="stroke-width:1.3"/><polyline class="l" points="60,95 160,45 500,215 500,240 440,270" /><polyline class="l" points="75,112 165,64 470,222" /><polyline class="l" points="240,90 450,200 455,180 245,72" /><polyline class="l" points="60,95 62,220 200,300" /><polyline class="l" points="100,150 250,120 300,160" /><polyline class="l" points="110,200 230,160 330,220 400,250 520,240" /><polyline class="l" points="440,270 440,345" /><polyline class="l" points="470,260 470,330" /><ellipse class="o" cx="192" cy="58" rx="20" ry="12" /><ellipse class="o" cx="190" cy="95" rx="45" ry="22" /><ellipse class="l" cx="190" cy="108" rx="42" ry="20" /><ellipse class="l" cx="190" cy="120" rx="40" ry="18" /><polygon class="o" points="170.95,224.38 171.06,221.38 171.38,218.44 171.93,215.59 172.69,212.85 173.66,210.24 174.82,207.78 176.18,205.49 177.72,203.39 179.43,201.49 181.3,199.8 183.31,198.35 185.44,197.13 187.69,196.17 190.03,195.47 192.44,195.02 194.92,194.85 197.43,194.94 199.96,195.29 202.49,195.92 205.01,196.8 285.01,226.8 287.48,227.93 289.9,229.31 292.24,230.92 294.49,232.75 296.63,234.79 298.64,237.02 300.51,239.43 302.23,241.99 303.77,244.69 305.14,247.51 306.31,250.42 307.28,253.41 308.05,256.44 308.6,259.51 308.94,262.57 309.05,265.62 308.94,268.62 308.62,271.56 308.07,274.41 307.31,277.15 306.34,279.76 305.18,282.22 303.82,284.51 302.28,286.61 300.57,288.51 298.7,290.2 296.69,291.65 294.56,292.87 292.31,293.83 289.97,294.53 287.56,294.98 285.08,295.15 282.57,295.06 280.04,294.71 277.51,294.08 274.99,293.2 194.99,263.2 192.52,262.07 190.1,260.69 187.76,259.08 185.51,257.25 183.37,255.21 181.36,252.98 179.49,250.57 177.77,248.01 176.23,245.31 174.86,242.49 173.69,239.58 172.72,236.59 171.95,233.56 171.4,230.49 171.06,227.43" /><ellipse class="o" cx="280" cy="260" rx="28" ry="36" transform="rotate(-20 280 260)" /><polygon class="o" points="125.22,210.53 125.34,208.01 125.64,205.55 126.13,203.17 126.8,200.87 127.64,198.68 128.66,196.62 129.84,194.69 131.17,192.92 132.64,191.32 134.25,189.89 135.98,188.66 137.81,187.63 139.74,186.81 141.74,186.2 143.81,185.81 145.93,185.65 148.07,185.7 150.23,185.98 152.39,186.48 154.53,187.2 156.64,188.13 211.64,213.13 213.69,214.26 215.68,215.59 217.59,217.11 219.4,218.8 221.1,220.65 222.68,222.64 224.13,224.77 225.43,227.02 226.57,229.37 227.55,231.79 228.36,234.28 228.99,236.81 229.44,239.37 229.7,241.93 229.78,244.47 229.66,246.99 229.36,249.45 228.87,251.83 228.2,254.13 227.36,256.32 226.34,258.38 225.16,260.31 223.83,262.08 222.36,263.68 220.75,265.11 219.02,266.34 217.19,267.37 215.26,268.19 213.26,268.8 211.19,269.19 209.07,269.35 206.93,269.3 204.77,269.02 202.61,268.52 200.47,267.8 198.36,266.87 143.36,241.87 141.31,240.74 139.32,239.41 137.41,237.89 135.6,236.2 133.9,234.35 132.32,232.36 130.87,230.23 129.57,227.98 128.43,225.63 127.45,223.21 126.64,220.72 126.01,218.19 125.56,215.63 125.3,213.07" /><ellipse class="o" cx="205" cy="240" rx="24" ry="30" transform="rotate(-20 205 240)" /><ellipse class="o" cx="72" cy="236" rx="14" ry="14" /><ellipse class="o" cx="270" cy="302" rx="14" ry="14" /><ellipse class="o" cx="455" cy="212" rx="11" ry="9" /><ellipse class="o" cx="420" cy="240" rx="14" ry="10" /><polyline class="l" points="380,380 388,1000" /><polyline class="l" points="400,372 410,990" /><polyline class="l" points="355,420 360,1010" /><polyline class="l" points="390,500 430,500" /><polyline class="l" points="392,620 430,620" /><polyline class="l" points="395,740 430,740" /><polyline class="l" points="398,860 430,860" /><polyline class="l" points="220,330 240,480 300,480 290,330" /><polyline class="l" points="250,330 265,480" /><path class="l" d="M 300,360 C 320,400 340,430 360,440" /><path class="l" d="M 170,520 L 240,490 L 320,520 L 360,560" /><polygon class="o" points="200,510 250,495 280,520 230,540" /><polygon class="o" points="215,580 260,565 290,590 240,605" /><polygon class="o" points="220,620 270,605 300,630 250,645" /><path class="l" d="M 260,500 C 300,520 330,560 330,620 L 330,700" /><path class="l" d="M 280,520 C 310,540 345,580 345,640" /><polygon class="o" points="211.24,695.18 211.4,692.32 211.78,689.52 212.37,686.8 213.17,684.18 214.18,681.68 215.38,679.32 216.77,677.12 218.34,675.09 220.07,673.25 221.96,671.62 223.98,670.2 226.12,669.01 228.37,668.05 328.37,628.05 330.71,627.34 333.12,626.87 335.58,626.66 338.07,626.7 340.58,627 343.08,627.54 345.57,628.34 348,629.37 350.38,630.64 352.68,632.13 354.88,633.83 356.97,635.73 358.93,637.82 360.75,640.07 362.41,642.48 363.89,645.02 365.2,647.68 366.31,650.42 367.22,653.24 367.93,656.12 368.42,659.02 368.7,661.93 368.76,664.82 368.6,667.68 368.22,670.48 367.63,673.2 366.83,675.82 365.82,678.32 364.62,680.68 363.23,682.88 361.66,684.91 359.93,686.75 358.04,688.38 356.02,689.8 353.88,690.99 351.63,691.95 251.63,731.95 249.29,732.66 246.88,733.13 244.42,733.34 241.93,733.3 239.42,733 236.92,732.46 234.43,731.66 232,730.63 229.62,729.36 227.32,727.87 225.12,726.17 223.03,724.27 221.07,722.18 219.25,719.93 217.59,717.52 216.11,714.98 214.8,712.32 213.69,709.58 212.78,706.76 212.07,703.88 211.58,700.98 211.3,698.07" /><ellipse class="o" cx="340" cy="660" rx="28" ry="34" transform="rotate(-20 340 660)" /><ellipse class="o" cx="262" cy="705" rx="14" ry="16" /><polyline class="l" points="200,720 260,760 360,740" /><polyline class="l" points="230,780 300,790 340,840 300,860" /><polygon class="o" points="290,800 330,790 345,820 305,835" /><path class="l" d="M 180,870 C 220,860 300,880 360,920" /><path class="l" d="M 200,950 C 230,940 280,960 330,990" /><ellipse class="o" cx="215" cy="950" rx="16" ry="16" /><ellipse class="o" cx="320" cy="968" rx="16" ry="16" /><path class="o" d="M 250,920 C 270,900 300,905 310,930 L 290,950 Z" /><path class="k" d="M 350,1000 L 385,1005 L 380,1032 L 355,1036 C 345,1025 345,1010 350,1000 Z" /><path class="l" d="M 200,330 L 210,480" /><path class="l" d="M 215,820 L 205,720 L 185,600 L 170,520" style="stroke-width:2.2"/><path class="l" d="M 180,870 C 195,840 210,830 215,820" style="stroke-width:2"/><path class="l" d="M 200,950 L 270,1000 L 355,1035" style="stroke-width:2"/><polyline class="l" points="370,380 378,995" style="stroke-width:1.3"/><polyline class="l" points="392,380 400,995" style="stroke-width:1.3"/><polyline class="l" points="418,380 426,995" style="stroke-width:1.3"/><polyline class="l" points="215,545 300,520 360,535" /><polyline class="l" points="215,575 300,550 360,565" /><polyline class="l" points="215,655 300,630 360,645" /><polyline class="l" points="215,685 300,660 360,675" /><polyline class="l" points="215,730 300,705 360,720" /><polyline class="l" points="215,770 300,745 360,760" /><polyline class="l" points="215,805 300,780 360,795" /><polyline class="l" points="215,840 300,815 360,830" /><polyline class="l" points="230,880 300,850 360,880" style="stroke-width:1.5"/><polyline class="l" points="250,980 320,930 370,960" /><polyline class="l" points="60,95 60,230" style="stroke-width:1.6"/></g>
<g transform="translate(410,740) scale(0.19720)"></g>
<g transform="translate(430,800) scale(0.12210)"><path class="o" d="M 65,470 L 170,410 L 205,410 L 215,430 L 350,480 L 362,512 L 452,540 L 600,598 L 626,628 L 626,1000 L 470,1048 L 350,952 L 200,845 L 130,822 C 105,800 100,760 100,700 C 100,620 80,520 65,470 Z" style="stroke-width:1.2"/><path class="l" d="M 75,480 L 175,425 L 205,428" /><path class="l" d="M 200,430 L 215,560 L 215,800" /><path class="l" d="M 215,430 L 230,520 L 360,560 L 362,512" /><polygon class="o" points="300,620 460,545 626,628 470,720" /><polyline class="l" points="470,720 470,1048" /><ellipse class="o" cx="495" cy="640" rx="34" ry="24" /><polygon class="o" points="520,560 545,545 560,555 565,600 540,610 522,600" /><polyline class="l" points="545,545 548,600" /><polygon class="o" points="380,630 410,620 440,640 440,800 410,810 380,790" /><polyline class="l" points="410,620 410,810" /><polyline class="l" points="225,620 300,650 300,720 228,700" /><polyline class="l" points="235,650 290,670" /><polyline class="l" points="235,680 290,695" /><polyline class="l" points="320,650 330,770 360,790" /><polyline class="l" points="230,480 250,470 262,520" /><ellipse class="o" cx="248" cy="470" rx="12" ry="8" /><polygon class="o" points="188.61,842.52 188.65,837.06 189.12,831.74 190.01,826.6 191.32,821.67 193.04,817 195.15,812.62 197.65,808.55 200.5,804.85 203.7,801.52 207.2,798.6 242.2,773.6 246,771.11 250.05,769.07 254.34,767.49 258.81,766.39 263.45,765.77 268.22,765.64 273.07,766 277.98,766.85 282.9,768.18 287.8,769.97 292.64,772.23 297.39,774.92 302,778.04 306.45,781.55 310.69,785.43 314.7,789.64 318.45,794.17 321.9,798.97 325.03,804 327.83,809.23 330.25,814.62 332.3,820.13 333.95,825.71 335.18,831.32 336,836.93 336.39,842.48 336.35,847.94 335.88,853.26 334.99,858.4 333.68,863.33 331.96,868 329.85,872.38 327.35,876.45 324.5,880.15 321.3,883.48 317.8,886.4 282.8,911.4 279,913.89 274.95,915.93 270.66,917.51 266.19,918.61 261.55,919.23 256.78,919.36 251.93,919 247.02,918.15 242.1,916.82 237.2,915.03 232.36,912.77 227.61,910.08 223,906.96 218.55,903.45 214.31,899.57 210.3,895.36 206.55,890.83 203.1,886.03 199.97,881 197.17,875.77 194.75,870.38 192.7,864.87 191.05,859.29 189.82,853.68 189,848.07" /><ellipse class="o" cx="245" cy="855" rx="52" ry="68" transform="rotate(-30 245 855)" /><ellipse class="o" cx="350" cy="915" rx="18" ry="18" /><ellipse class="o" cx="465" cy="985" rx="18" ry="18" /><polyline class="l" points="215,800 350,952" /><path class="o" d="M 20,300 C 20,280 40,262 60,256 L 330,110 C 350,100 370,100 390,110 L 420,130 C 435,150 435,175 420,190 L 140,360 C 120,370 100,366 85,356 L 40,336 C 25,326 20,316 20,300 Z" /><path class="l" d="M 60,256 C 90,270 120,310 138,358" /><polyline class="l" points="210,165 238,250" /><polyline class="l" points="298,120 325,205" /><polyline class="l" points="235,250 420,150" /><polyline class="l" points="238,170 390,108" /><ellipse class="o" cx="212" cy="208" rx="14" ry="10" /><ellipse class="l" cx="65" cy="312" rx="30" ry="18" transform="rotate(-30 65 312)" style="stroke-width:2.4"/></g>
<g transform="translate(410,740) scale(0.19720)"></g>
<g transform="translate(340,880) scale(0.14562)"><path class="o" d="M 100,100 L 95,200 C 100,260 105,320 160,430 C 178,500 178,600 162,700 C 158,750 162,790 150,805 C 128,830 128,900 150,975 C 180,1010 230,1022 280,1024 C 350,1025 420,1012 455,990 C 470,960 472,920 472,890 L 490,140 L 300,60 Z" style="stroke-width:1.3"/><path class="l" d="M 160,95 C 190,140 225,230 238,320 C 248,450 255,600 265,830 C 275,860 300,868 340,868 L 440,866 C 462,860 470,840 470,820 L 482,160" style="stroke-width:2"/><path class="l" d="M 180,100 C 210,150 240,230 252,320 C 262,450 270,600 280,830 C 290,850 310,855 340,855 L 440,852" /><path class="l" d="M 242,300 C 330,318 410,318 482,300" /><path class="l" d="M 250,430 C 330,440 410,440 482,420" /><path class="l" d="M 258,545 C 330,555 410,555 482,540" /><path class="l" d="M 340,160 L 470,170 L 460,850" /><ellipse class="o" cx="160" cy="285" rx="56" ry="66" style="stroke-width:2.2"/><ellipse class="l" cx="166" cy="290" rx="42" ry="52" /><ellipse class="o" cx="222" cy="590" rx="20" ry="24" /><path class="l" d="M 130,820 C 200,790 330,845 472,872" /><path class="l" d="M 140,880 C 220,860 330,910 465,930" /><ellipse class="o" cx="325" cy="940" rx="36" ry="26" /><ellipse class="o" cx="165" cy="910" rx="14" ry="24" /></g>
<g transform="translate(240,820) scale(0.20657)"><polygon class="o" points="361.78,853.73 361.89,852.23 362.11,850.77 362.46,849.36 362.92,848.02 363.5,846.76 364.19,845.58 364.98,844.49 365.88,843.51 366.86,842.64 367.93,841.89 385.93,830.89 387.08,830.26 388.29,829.75 389.57,829.38 390.89,829.14 392.25,829.04 393.64,829.07 395.05,829.24 396.46,829.55 397.88,829.99 399.27,830.55 400.65,831.25 401.98,832.06 403.27,832.99 404.51,834.02 405.68,835.15 406.78,836.37 407.79,837.68 408.72,839.05 409.55,840.49 410.28,841.97 410.89,843.49 411.4,845.04 411.78,846.61 412.05,848.17 412.2,849.73 412.22,851.27 412.11,852.77 411.89,854.23 411.54,855.64 411.08,856.98 410.5,858.24 409.81,859.42 409.02,860.51 408.12,861.49 407.14,862.36 406.07,863.11 388.07,874.11 386.92,874.74 385.71,875.25 384.43,875.62 383.11,875.86 381.75,875.96 380.36,875.93 378.95,875.76 377.54,875.45 376.12,875.01 374.73,874.45 373.35,873.75 372.02,872.94 370.73,872.01 369.49,870.98 368.32,869.85 367.22,868.63 366.21,867.32 365.28,865.95 364.45,864.51 363.72,863.03 363.11,861.51 362.6,859.96 362.22,858.39 361.95,856.83 361.8,855.27" /><ellipse class="o" cx="396" cy="847" rx="15" ry="19" transform="rotate(-32 396 847)" /><ellipse class="o" cx="378" cy="858" rx="15" ry="19" transform="rotate(-32 378 858)" /><ellipse class="k" cx="378" cy="858" rx="6" ry="8" transform="rotate(-32 378 858)" /><polygon class="k" points="389.61,840.33 389.67,839.55 389.8,838.82 389.98,838.14 390.23,837.52 390.54,836.97 390.9,836.48 391.32,836.07 391.79,835.73 467.79,789.73 468.3,789.48 468.86,789.3 469.46,789.2 470.09,789.18 470.75,789.25 471.44,789.4 472.15,789.63 472.87,789.94 473.6,790.32 474.33,790.78 475.06,791.31 475.78,791.91 476.49,792.56 477.18,793.28 477.85,794.04 478.48,794.85 479.08,795.7 479.65,796.58 480.17,797.49 480.64,798.42 481.06,799.36 481.43,800.3 481.74,801.24 482,802.17 482.19,803.09 482.32,803.98 482.39,804.84 482.39,805.67 482.33,806.45 482.2,807.18 482.02,807.86 481.77,808.48 481.46,809.03 481.1,809.52 480.68,809.93 480.21,810.27 404.21,856.27 403.7,856.52 403.14,856.7 402.54,856.8 401.91,856.82 401.25,856.75 400.56,856.6 399.85,856.37 399.13,856.06 398.4,855.68 397.67,855.22 396.94,854.69 396.22,854.09 395.51,853.44 394.82,852.72 394.15,851.96 393.52,851.15 392.92,850.3 392.35,849.42 391.83,848.51 391.36,847.58 390.94,846.64 390.57,845.7 390.26,844.76 390,843.83 389.81,842.91 389.68,842.02 389.61,841.16" style="fill:#2c2c2c"/><line class="l" x1="406.76" y1="851.92" x2="400.93" y2="833.01" style="stroke:#6a6a6a;stroke-width:1"/><line class="l" x1="412.61" y1="848.38" x2="406.77" y2="829.47" style="stroke:#6a6a6a;stroke-width:1"/><line class="l" x1="418.46" y1="844.84" x2="412.62" y2="825.93" style="stroke:#6a6a6a;stroke-width:1"/><line class="l" x1="424.3" y1="841.3" x2="418.47" y2="822.39" style="stroke:#6a6a6a;stroke-width:1"/><line class="l" x1="430.15" y1="837.76" x2="424.31" y2="818.85" style="stroke:#6a6a6a;stroke-width:1"/><line class="l" x1="435.99" y1="834.22" x2="430.16" y2="815.31" style="stroke:#6a6a6a;stroke-width:1"/><line class="l" x1="441.84" y1="830.69" x2="436.01" y2="811.78" style="stroke:#6a6a6a;stroke-width:1"/><line class="l" x1="447.69" y1="827.15" x2="441.85" y2="808.24" style="stroke:#6a6a6a;stroke-width:1"/><line class="l" x1="453.53" y1="823.61" x2="447.7" y2="804.7" style="stroke:#6a6a6a;stroke-width:1"/><line class="l" x1="459.38" y1="820.07" x2="453.54" y2="801.16" style="stroke:#6a6a6a;stroke-width:1"/><line class="l" x1="465.23" y1="816.53" x2="459.39" y2="797.62" style="stroke:#6a6a6a;stroke-width:1"/><line class="l" x1="471.07" y1="812.99" x2="465.24" y2="794.08" style="stroke:#6a6a6a;stroke-width:1"/><ellipse class="o" cx="474" cy="800" rx="6" ry="11.04" transform="rotate(-31.18 474 800)" /><polygon class="k" points="866,508 866.05,507.33 866.21,506.66 866.48,506.01 866.84,505.37 867.31,504.75 867.88,504.15 868.53,503.58 869.28,503.05 870.1,502.56 871,502.1 871.97,501.69 873,501.33 874.08,501.02 875.21,500.76 876.38,500.56 877.57,500.42 878.78,500.33 880,500.3 881.22,500.33 882.43,500.42 883.62,500.56 884.79,500.76 885.92,501.02 887,501.33 888.03,501.69 889,502.1 889.9,502.56 890.72,503.05 891.47,503.58 892.12,504.15 892.69,504.75 893.16,505.37 893.52,506.01 893.79,506.66 893.95,507.33 894,508 894,630 893.95,630.67 893.79,631.34 893.52,631.99 893.16,632.63 892.69,633.25 892.12,633.85 891.47,634.42 890.72,634.95 889.9,635.44 889,635.9 888.03,636.31 887,636.67 885.92,636.98 884.79,637.24 883.62,637.44 882.43,637.58 881.22,637.67 880,637.7 878.78,637.67 877.57,637.58 876.38,637.44 875.21,637.24 874.08,636.98 873,636.67 871.97,636.31 871,635.9 870.1,635.44 869.28,634.95 868.53,634.42 867.88,633.85 867.31,633.25 866.84,632.63 866.48,631.99 866.21,631.34 866.05,630.67 866,630" style="fill:#2c2c2c"/><line class="l" x1="891.2" y1="624.67" x2="868.8" y2="619.07" style="stroke:#6a6a6a;stroke-width:1"/><line class="l" x1="891.2" y1="616.53" x2="868.8" y2="610.93" style="stroke:#6a6a6a;stroke-width:1"/><line class="l" x1="891.2" y1="608.4" x2="868.8" y2="602.8" style="stroke:#6a6a6a;stroke-width:1"/><line class="l" x1="891.2" y1="600.27" x2="868.8" y2="594.67" style="stroke:#6a6a6a;stroke-width:1"/><line class="l" x1="891.2" y1="592.13" x2="868.8" y2="586.53" style="stroke:#6a6a6a;stroke-width:1"/><line class="l" x1="891.2" y1="584" x2="868.8" y2="578.4" style="stroke:#6a6a6a;stroke-width:1"/><line class="l" x1="891.2" y1="575.87" x2="868.8" y2="570.27" style="stroke:#6a6a6a;stroke-width:1"/><line class="l" x1="891.2" y1="567.73" x2="868.8" y2="562.13" style="stroke:#6a6a6a;stroke-width:1"/><line class="l" x1="891.2" y1="559.6" x2="868.8" y2="554" style="stroke:#6a6a6a;stroke-width:1"/><line class="l" x1="891.2" y1="551.47" x2="868.8" y2="545.87" style="stroke:#6a6a6a;stroke-width:1"/><line class="l" x1="891.2" y1="543.33" x2="868.8" y2="537.73" style="stroke:#6a6a6a;stroke-width:1"/><line class="l" x1="891.2" y1="535.2" x2="868.8" y2="529.6" style="stroke:#6a6a6a;stroke-width:1"/><line class="l" x1="891.2" y1="527.07" x2="868.8" y2="521.47" style="stroke:#6a6a6a;stroke-width:1"/><line class="l" x1="891.2" y1="518.93" x2="868.8" y2="513.33" style="stroke:#6a6a6a;stroke-width:1"/><ellipse class="o" cx="880" cy="508" rx="7" ry="12.88" transform="rotate(-90 880 508)" /><ellipse class="o" cx="880" cy="635" rx="28" ry="14" /><polyline class="l" points="852,635 852,648 908,648 908,635" /></g>
<g transform="translate(310,830) scale(0.10331)"><path class="o" d="M 75,225 C 80,200 100,185 130,170 L 330,68 L 365,98 L 360,130 L 330,150 L 330,240 L 560,440 L 600,470 L 690,440 L 960,440 L 1010,490 L 1000,650 L 760,705 L 640,645 L 620,600 L 560,590 L 500,565 L 200,420 L 180,400 L 90,352 Z" style="stroke-width:1.3"/><path class="l" d="M 75,225 L 180,290 L 182,400" /><path class="l" d="M 180,290 L 330,220" /><polygon class="o" points="190,135 335,70 365,100 360,130 250,180" /><polyline class="l" points="200,150 340,85" /><polyline class="l" points="215,160 350,100" /><polygon class="k" points="224.02,129.07 224.08,127.72 224.34,126.38 224.82,125.05 225.51,123.74 226.39,122.47 227.47,121.23 228.74,120.05 230.19,118.93 231.8,117.87 233.56,116.9 235.47,116.01 237.5,115.21 239.64,114.5 241.88,113.91 244.19,113.41 246.56,113.03 248.98,112.76 251.41,112.61 253.85,112.58 256.28,112.66 258.67,112.86 261.02,113.17 263.29,113.6 265.48,114.14 267.57,114.78 269.53,115.52 271.37,116.36 273.06,117.29 274.58,118.3 275.94,119.38 277.11,120.53 278.09,121.73 278.87,122.98 279.45,124.27 279.82,125.59 279.98,126.93 285.98,283.93 285.92,285.28 285.66,286.62 285.18,287.95 284.49,289.26 283.61,290.53 282.53,291.77 281.26,292.95 279.81,294.07 278.2,295.13 276.44,296.1 274.53,296.99 272.5,297.79 270.36,298.5 268.12,299.09 265.81,299.59 263.44,299.97 261.02,300.24 258.59,300.39 256.15,300.42 253.72,300.34 251.33,300.14 248.98,299.83 246.71,299.4 244.52,298.86 242.43,298.22 240.47,297.48 238.63,296.64 236.94,295.71 235.42,294.7 234.06,293.62 232.89,292.47 231.91,291.27 231.13,290.02 230.55,288.73 230.18,287.41 230.02,286.07" style="fill:#2c2c2c"/><line class="l" x1="230" y1="138.96" x2="275.2" y2="148.44" style="stroke:#6a6a6a;stroke-width:1"/><line class="l" x1="230.6" y1="154.66" x2="275.8" y2="164.14" style="stroke:#6a6a6a;stroke-width:1"/><line class="l" x1="231.2" y1="170.36" x2="276.4" y2="179.84" style="stroke:#6a6a6a;stroke-width:1"/><line class="l" x1="231.8" y1="186.06" x2="277" y2="195.54" style="stroke:#6a6a6a;stroke-width:1"/><line class="l" x1="232.4" y1="201.76" x2="277.6" y2="211.24" style="stroke:#6a6a6a;stroke-width:1"/><line class="l" x1="233" y1="217.46" x2="278.2" y2="226.94" style="stroke:#6a6a6a;stroke-width:1"/><line class="l" x1="233.6" y1="233.16" x2="278.8" y2="242.64" style="stroke:#6a6a6a;stroke-width:1"/><line class="l" x1="234.2" y1="248.86" x2="279.4" y2="258.34" style="stroke:#6a6a6a;stroke-width:1"/><line class="l" x1="234.8" y1="264.56" x2="280" y2="274.04" style="stroke:#6a6a6a;stroke-width:1"/><ellipse class="o" cx="258" cy="285" rx="14" ry="25.76" transform="rotate(87.81 258 285)" /><ellipse class="o" cx="200" cy="235" rx="28" ry="18" /><polygon class="o" points="95,330 150,300 240,330 240,365 180,395 95,365" /><ellipse class="o" cx="122" cy="362" rx="20" ry="14" /><path class="l" d="M 300,330 C 330,430 380,500 470,530" /><path class="l" d="M 350,300 C 400,330 450,380 560,440" /><path class="l" d="M 330,240 C 420,290 520,330 600,360 C 630,390 640,420 640,450" /><polyline class="l" points="440,420 560,360" /><path class="l" d="M 690,440 C 720,400 780,395 810,420 C 830,440 830,470 820,490" /><polygon class="o" points="600,480 690,445 960,445 1005,490 760,600 620,560" /><ellipse class="o" cx="710" cy="530" rx="35" ry="22" /><polyline class="l" points="800,510 960,450" /><polyline class="l" points="810,525 975,465" /><polyline class="l" points="760,600 760,705" /><polygon class="o" points="480,580 560,550 620,570 615,610 540,640 480,615" /><ellipse class="o" cx="500" cy="590" rx="18" ry="12" /><polyline class="l" points="420,570 430,775" /><polyline class="l" points="520,620 530,775" /><polyline class="l" points="700,610 700,700" /></g>
<g transform="translate(440,900) scale(0.30048)"><path class="o" d="M 220,70 L 220,120 L 250,120 L 250,70 Z" /><ellipse class="o" cx="235" cy="68" rx="15" ry="7" /><path class="o" d="M 225,140 L 275,348 L 318,340 L 285,140 Z" /><ellipse class="o" cx="247" cy="128" rx="42" ry="15" /><path class="l" d="M 205,128 L 208,140 C 230,150 270,150 288,140 L 290,128" /><path class="l" d="M 275,345 C 290,385 350,380 445,378" /><path class="l" d="M 295,368 C 320,412 380,415 445,415" /><path class="l" d="M 318,340 C 320,360 330,370 345,375" /><path class="l" d="M 445,368 C 440,385 450,405 445,425" /><path class="l" d="M 460,368 C 455,385 465,405 460,425" /><polyline class="l" points="460,378 592,378" /><polyline class="l" points="460,415 592,415" /><polygon class="o" points="590,352 700,352 700,440 590,440" /><polyline class="l" points="620,352 620,440" /><polyline class="l" points="640,352 640,440" /><polyline class="l" points="665,352 665,440" /><path class="o" d="M 690,345 L 715,345 L 720,360 L 720,440 L 715,450 L 690,450 L 695,440 L 695,355 Z" /><path class="o" d="M 720,360 C 770,335 820,325 855,322 L 855,475 C 820,470 770,460 720,440 Z" /><polygon class="o" points="855,305 880,308 880,480 855,478" /><polygon class="o" points="880,342 995,345 995,357 880,355" /><polygon class="o" points="880,428 995,430 995,442 880,440" /><polyline class="l" points="980,344 980,356" /><polyline class="l" points="980,429 980,441" /></g>
<g transform="translate(670,670) scale(0.14085)"><path class="o" d="M 90,190 C 140,150 250,90 370,45 C 420,35 470,50 520,90 L 630,160 C 650,190 655,230 652,280 L 665,980 C 660,1030 630,1045 580,1045 C 540,1040 510,1020 490,1000 L 320,860 C 250,760 150,600 95,500 C 40,420 40,330 60,260 C 70,230 80,205 90,190 Z" style="stroke-width:1.3"/><path class="o" d="M 200,235 C 240,215 270,205 300,200 L 440,235 C 470,250 480,270 480,300 L 485,920 C 480,940 460,945 445,930 L 290,760 C 230,680 170,590 140,520 C 120,460 130,380 160,300 C 170,270 185,250 200,235 Z" /><path class="o" d="M 272,212 L 308,172 C 350,168 420,200 460,245 L 470,262 L 482,925 L 462,932 L 440,900 L 300,610 C 282,565 276,505 276,452 Z" style="stroke-width:1.4"/><path class="l" d="M 300,200 L 440,250 L 455,270 L 465,920" /><path class="l" d="M 430,245 L 440,900" /><path class="l" d="M 280,125 C 350,120 450,170 520,230 L 525,350" /><path class="d" d="M 525,350 L 540,920" style="stroke-dasharray:9 3 3 3"/><path class="l" d="M 490,1000 C 520,1030 545,1040 580,1045" /><path class="l" d="M 520,1040 L 535,940" /></g>
<g transform="translate(760,610) scale(0.15494)"><path class="o" d="M 70,230 C 100,200 200,150 300,100 C 340,85 380,90 420,100 L 540,180 C 560,195 570,210 570,240 L 575,900 C 570,960 540,1000 500,1012 L 470,1002 L 390,952 L 330,882 L 110,572 L 70,502 C 65,420 70,300 70,230 Z" /><path class="o" d="M 78,238 L 290,140 C 320,130 350,140 380,155 L 470,225 C 485,240 490,260 490,290 L 495,990 L 470,1002 L 390,952 L 330,882 L 110,572 L 78,540 Z" style="stroke-width:2.2"/><path class="o" d="M 140,285 L 290,205 C 310,198 330,205 340,220 L 345,880 L 320,880 C 250,780 190,680 140,580 Z" style="stroke-width:1.8"/><path class="o" d="M 362,222 L 460,270 L 470,290 L 472,940 L 370,880 Z" style="stroke-width:1.8"/><path class="l" d="M 362,540 L 470,600" /><path class="l" d="M 362,560 L 470,620" /><path class="l" d="M 370,880 C 390,870 440,870 470,880" /><path class="l" d="M 200,190 C 230,230 290,280 280,350 C 270,420 230,480 245,560 C 260,620 300,660 330,700" /><path class="l" d="M 140,280 L 120,300 L 110,560" /><ellipse class="o" cx="440" cy="270" rx="26" ry="26" style="stroke-width:1.6"/><ellipse class="l" cx="440" cy="270" rx="14" ry="14" /><path class="o" d="M 70,500 C 80,470 110,450 130,450 L 130,560 L 100,560 Z" /><ellipse class="o" cx="112" cy="590" rx="12" ry="12" /><ellipse class="o" cx="100" cy="245" rx="12" ry="12" /><ellipse class="o" cx="450" cy="945" rx="12" ry="12" /><polygon class="k" points="31.79,287.95 31.83,286.83 31.93,285.74 32.09,284.7 32.32,283.72 32.6,282.8 32.93,281.95 33.32,281.17 33.77,280.48 34.25,279.88 34.79,279.36 35.36,278.95 35.97,278.63 36.6,278.42 116.6,258.42 117.27,258.31 117.95,258.3 118.65,258.4 119.36,258.6 120.08,258.9 120.79,259.3 121.5,259.8 122.2,260.4 122.88,261.08 123.54,261.84 124.17,262.68 124.77,263.59 125.34,264.57 125.86,265.6 126.34,266.68 126.77,267.8 127.15,268.96 127.47,270.13 127.74,271.32 127.95,272.52 128.09,273.71 128.18,274.89 128.21,276.05 128.17,277.17 128.07,278.26 127.91,279.3 127.68,280.28 127.4,281.2 127.07,282.05 126.68,282.83 126.23,283.52 125.75,284.12 125.21,284.64 124.64,285.05 124.03,285.37 123.4,285.58 43.4,305.58 42.73,305.69 42.05,305.7 41.35,305.6 40.64,305.4 39.92,305.1 39.21,304.7 38.5,304.2 37.8,303.6 37.12,302.92 36.46,302.16 35.83,301.32 35.23,300.41 34.66,299.43 34.14,298.4 33.66,297.32 33.23,296.2 32.85,295.04 32.53,293.87 32.26,292.68 32.05,291.48 31.91,290.29 31.82,289.11" style="fill:#2c2c2c"/><line class="l" x1="112" y1="262.46" x2="112" y2="285.54" style="stroke:#6a6a6a;stroke-width:1"/><line class="l" x1="104" y1="264.46" x2="104" y2="287.54" style="stroke:#6a6a6a;stroke-width:1"/><line class="l" x1="96" y1="266.46" x2="96" y2="289.54" style="stroke:#6a6a6a;stroke-width:1"/><line class="l" x1="88" y1="268.46" x2="88" y2="291.54" style="stroke:#6a6a6a;stroke-width:1"/><line class="l" x1="80" y1="270.46" x2="80" y2="293.54" style="stroke:#6a6a6a;stroke-width:1"/><line class="l" x1="72" y1="272.46" x2="72" y2="295.54" style="stroke:#6a6a6a;stroke-width:1"/><line class="l" x1="64" y1="274.46" x2="64" y2="297.54" style="stroke:#6a6a6a;stroke-width:1"/><line class="l" x1="56" y1="276.46" x2="56" y2="299.54" style="stroke:#6a6a6a;stroke-width:1"/><line class="l" x1="48" y1="278.46" x2="48" y2="301.54" style="stroke:#6a6a6a;stroke-width:1"/><ellipse class="o" cx="40" cy="292" rx="7" ry="12.88" transform="rotate(165.96 40 292)" /><polygon class="k" points="36.89,603.76 36.96,602.63 37.08,601.55 37.27,600.52 37.52,599.54 37.82,598.62 38.17,597.78 38.58,597.02 39.04,596.34 39.54,595.74 40.09,595.24 40.67,594.84 41.28,594.54 41.93,594.34 121.93,576.34 122.59,576.25 123.28,576.26 123.98,576.37 124.68,576.59 125.39,576.91 126.09,577.33 126.79,577.84 127.47,578.45 128.14,579.15 128.78,579.93 129.39,580.78 129.97,581.71 130.51,582.7 131.01,583.74 131.46,584.83 131.86,585.96 132.22,587.13 132.51,588.31 132.75,589.51 132.93,590.71 133.05,591.9 133.11,593.08 133.11,594.24 133.04,595.37 132.92,596.45 132.73,597.48 132.48,598.46 132.18,599.38 131.83,600.22 131.42,600.98 130.96,601.66 130.46,602.26 129.91,602.76 129.33,603.16 128.72,603.46 128.07,603.66 48.07,621.66 47.41,621.75 46.72,621.74 46.02,621.63 45.32,621.41 44.61,621.09 43.91,620.67 43.21,620.16 42.53,619.55 41.86,618.85 41.22,618.07 40.61,617.22 40.03,616.29 39.49,615.3 38.99,614.26 38.54,613.17 38.14,612.04 37.78,610.87 37.49,609.69 37.25,608.49 37.07,607.29 36.95,606.1 36.89,604.92" style="fill:#2c2c2c"/><line class="l" x1="117.27" y1="580.26" x2="116.73" y2="603.34" style="stroke:#6a6a6a;stroke-width:1"/><line class="l" x1="109.27" y1="582.06" x2="108.73" y2="605.14" style="stroke:#6a6a6a;stroke-width:1"/><line class="l" x1="101.27" y1="583.86" x2="100.73" y2="606.94" style="stroke:#6a6a6a;stroke-width:1"/><line class="l" x1="93.27" y1="585.66" x2="92.73" y2="608.74" style="stroke:#6a6a6a;stroke-width:1"/><line class="l" x1="85.27" y1="587.46" x2="84.73" y2="610.54" style="stroke:#6a6a6a;stroke-width:1"/><line class="l" x1="77.27" y1="589.26" x2="76.73" y2="612.34" style="stroke:#6a6a6a;stroke-width:1"/><line class="l" x1="69.27" y1="591.06" x2="68.73" y2="614.14" style="stroke:#6a6a6a;stroke-width:1"/><line class="l" x1="61.27" y1="592.86" x2="60.73" y2="615.94" style="stroke:#6a6a6a;stroke-width:1"/><line class="l" x1="53.27" y1="594.66" x2="52.73" y2="617.74" style="stroke:#6a6a6a;stroke-width:1"/><ellipse class="o" cx="45" cy="608" rx="7" ry="12.88" transform="rotate(167.32 45 608)" /><polygon class="k" points="375.54,983.83 375.59,982.87 375.71,981.96 375.9,981.11 376.16,980.34 376.49,979.63 376.88,979.01 377.33,978.46 377.84,978.01 378.41,977.65 453.41,937.65 454.03,937.38 454.69,937.21 455.39,937.13 456.13,937.15 456.9,937.27 457.69,937.49 458.5,937.8 459.32,938.21 460.15,938.7 460.97,939.28 461.79,939.95 462.59,940.69 463.37,941.5 464.13,942.37 464.86,943.3 465.55,944.29 466.19,945.31 466.79,946.38 467.34,947.47 467.83,948.58 468.27,949.7 468.64,950.82 468.94,951.94 469.18,953.04 469.34,954.12 469.44,955.16 469.46,956.17 469.41,957.13 469.29,958.04 469.1,958.89 468.84,959.66 468.51,960.37 468.12,960.99 467.67,961.54 467.16,961.99 466.59,962.35 391.59,1002.35 390.97,1002.62 390.31,1002.79 389.61,1002.87 388.87,1002.85 388.1,1002.73 387.31,1002.51 386.5,1002.2 385.68,1001.79 384.85,1001.3 384.03,1000.72 383.21,1000.05 382.41,999.31 381.63,998.5 380.87,997.63 380.14,996.7 379.45,995.71 378.81,994.69 378.21,993.62 377.66,992.53 377.17,991.42 376.73,990.3 376.36,989.18 376.06,988.06 375.82,986.96 375.66,985.88 375.56,984.84" style="fill:#2c2c2c"/><line class="l" x1="450.38" y1="942.44" x2="455.98" y2="964.84" style="stroke:#6a6a6a;stroke-width:1"/><line class="l" x1="443.56" y1="946.07" x2="449.16" y2="968.47" style="stroke:#6a6a6a;stroke-width:1"/><line class="l" x1="436.75" y1="949.71" x2="442.35" y2="972.11" style="stroke:#6a6a6a;stroke-width:1"/><line class="l" x1="429.93" y1="953.35" x2="435.53" y2="975.75" style="stroke:#6a6a6a;stroke-width:1"/><line class="l" x1="423.11" y1="956.98" x2="428.71" y2="979.38" style="stroke:#6a6a6a;stroke-width:1"/><line class="l" x1="416.29" y1="960.62" x2="421.89" y2="983.02" style="stroke:#6a6a6a;stroke-width:1"/><line class="l" x1="409.47" y1="964.25" x2="415.07" y2="986.65" style="stroke:#6a6a6a;stroke-width:1"/><line class="l" x1="402.65" y1="967.89" x2="408.25" y2="990.29" style="stroke:#6a6a6a;stroke-width:1"/><line class="l" x1="395.84" y1="971.53" x2="401.44" y2="993.93" style="stroke:#6a6a6a;stroke-width:1"/><line class="l" x1="389.02" y1="975.16" x2="394.62" y2="997.56" style="stroke:#6a6a6a;stroke-width:1"/><ellipse class="o" cx="385" cy="990" rx="7" ry="12.88" transform="rotate(151.93 385 990)" /><polygon class="k" points="670.15,123.48 670.21,122.57 670.35,121.71 670.56,120.92 670.84,120.19 671.19,119.55 671.61,118.98 672.1,118.49 672.64,118.09 782.64,50.09 783.24,49.78 783.89,49.57 784.58,49.45 785.32,49.43 786.1,49.5 786.9,49.66 787.73,49.92 788.57,50.28 789.43,50.72 790.29,51.24 791.14,51.85 791.99,52.54 792.82,53.3 793.64,54.12 794.42,55.01 795.17,55.94 795.88,56.93 796.55,57.95 797.17,59 797.73,60.08 798.23,61.17 798.67,62.27 799.05,63.36 799.35,64.45 799.59,65.51 799.75,66.55 799.84,67.56 799.85,68.52 799.79,69.43 799.65,70.29 799.44,71.08 799.16,71.81 798.81,72.45 798.39,73.02 797.9,73.51 797.36,73.91 687.36,141.91 686.76,142.22 686.11,142.43 685.42,142.55 684.68,142.57 683.9,142.5 683.1,142.34 682.27,142.08 681.43,141.72 680.57,141.28 679.71,140.76 678.86,140.15 678.01,139.46 677.18,138.7 676.36,137.88 675.58,136.99 674.83,136.06 674.12,135.07 673.45,134.05 672.83,133 672.27,131.92 671.77,130.83 671.33,129.73 670.95,128.64 670.65,127.55 670.41,126.49 670.25,125.45 670.16,124.44" style="fill:#2c2c2c"/><line class="l" x1="690.38" y1="136.75" x2="683.37" y2="114.75" style="stroke:#6a6a6a;stroke-width:1"/><line class="l" x1="697.26" y1="132.5" x2="690.24" y2="110.5" style="stroke:#6a6a6a;stroke-width:1"/><line class="l" x1="704.13" y1="128.25" x2="697.12" y2="106.25" style="stroke:#6a6a6a;stroke-width:1"/><line class="l" x1="711.01" y1="124" x2="703.99" y2="102" style="stroke:#6a6a6a;stroke-width:1"/><line class="l" x1="717.88" y1="119.75" x2="710.87" y2="97.75" style="stroke:#6a6a6a;stroke-width:1"/><line class="l" x1="724.76" y1="115.5" x2="717.74" y2="93.5" style="stroke:#6a6a6a;stroke-width:1"/><line class="l" x1="731.63" y1="111.25" x2="724.62" y2="89.25" style="stroke:#6a6a6a;stroke-width:1"/><line class="l" x1="738.51" y1="107" x2="731.49" y2="85" style="stroke:#6a6a6a;stroke-width:1"/><line class="l" x1="745.38" y1="102.75" x2="738.37" y2="80.75" style="stroke:#6a6a6a;stroke-width:1"/><line class="l" x1="752.26" y1="98.5" x2="745.24" y2="76.5" style="stroke:#6a6a6a;stroke-width:1"/><line class="l" x1="759.13" y1="94.25" x2="752.12" y2="72.25" style="stroke:#6a6a6a;stroke-width:1"/><line class="l" x1="766.01" y1="90" x2="758.99" y2="68" style="stroke:#6a6a6a;stroke-width:1"/><line class="l" x1="772.88" y1="85.75" x2="765.87" y2="63.75" style="stroke:#6a6a6a;stroke-width:1"/><line class="l" x1="779.76" y1="81.5" x2="772.74" y2="59.5" style="stroke:#6a6a6a;stroke-width:1"/><line class="l" x1="786.63" y1="77.25" x2="779.62" y2="55.25" style="stroke:#6a6a6a;stroke-width:1"/><ellipse class="o" cx="790" cy="62" rx="7" ry="12.88" transform="rotate(-31.72 790 62)" /><ellipse class="o" cx="790" cy="62" rx="16" ry="20" transform="rotate(-58 790 62)" /><line class="l" x1="560" y1="195" x2="665" y2="135" /></g>
<polyline class="l" points="617.8,352 617.8,371" />
<polyline class="l" points="670.7,470 670.7,487" />
<polyline class="l" points="670.7,511 670.7,522" />
<polyline class="l" points="670.7,555 670.7,577" />
<polyline class="l" points="261,712 469,651" />
<polyline class="l" points="594.6,155 627.3,171.8" />
<polyline class="l" points="491,261 553.5,296" />
<polyline class="l" points="393,276 442,305.8" />
<polyline class="l" points="757,248 779.3,260.6" />
<polyline class="l" points="716,229 745,243" />
<polyline class="l" points="423,220 433,226" />
<polyline class="l" points="269,424 300,440" />
<polyline class="l" points="428,512 495,553.4" />
<polyline class="l" points="525,371 573,399.4" />
<polyline class="l" points="330,603 370,626.7" />
<polyline class="l" points="508.4,84.8 508.4,97.8" />
<polyline class="l" points="573.5,89.8 573.5,113.5" />
<polyline class="l" points="640.3,127.5 640.3,171" />
<polyline class="l" points="677,149 677,192" />
<polyline class="l" points="721,174 721,201" />
<polyline class="l" points="768,201 768,230" />
<polyline class="l" points="377.2,143.2 377.2,152 319.4,187" />
<polyline class="l" points="402.3,157.7 402.3,226" />
<polyline class="l" points="421.6,169 421.6,209" />
<polyline class="l" points="439.4,179.3 439.4,226" />
<polyline class="l" points="489.6,208.4 489.6,238" />
<polyline class="l" points="515,223 515,265" />
<polyline class="l" points="535,234.3 535,278.4" />
<polyline class="l" points="554.4,245.6 554.4,319" />
<polyline class="l" points="604.4,270.3 610.7,281.7" />
<polyline class="l" points="225.8,247.2 225.8,253" />
<polyline class="l" points="355.8,303 355.8,266" />
<polyline class="l" points="380.8,318.7 380.8,301.5" />
<polyline class="l" points="411.7,336.1 411.7,296" />
<polyline class="l" points="434,348.1 434,303" />
<polyline class="l" points="244,351.2 244,432.4" />
<polyline class="l" points="267.4,364.7 267.4,410.8" />
<polyline class="l" points="294.8,380.3 294.8,424.9" />
<polyline class="l" points="409.6,446.1 409.6,483" />
<polyline class="l" points="448.6,468.6 448.6,508" />
<polyline class="l" points="472.7,482.8 472.7,490 451,550" />
<polyline class="l" points="499.7,497.9 476,526" />
<polyline class="l" points="301.8,512 352,539.7" />
<polyline class="l" points="258.2,534.7 307,562" />
<polyline class="l" points="261,673.6 378.3,627.3" />
<polyline class="l" points="261.7,756.6 444.3,828.9" />
<polyline class="l" points="261.7,797.2 436.6,856.8" />
<polyline class="l" points="260.7,856 353.6,899.5" />
<polyline class="l" points="260.7,935.7 327.8,986.3" />
<polyline class="l" points="452.4,921.4 425.8,931.3" />
<polyline class="l" points="470,946.6 508.5,958.6" />
<polyline class="l" points="470,999.2 528.6,1011.2" />
<polyline class="l" points="532,712 816.2,874.5" />
<polyline class="l" points="858.3,849 754.6,790.3" />
<polyline class="l" points="773.4,578.9 862,630" />
<polyline class="l" points="758.2,556 710,584" />
<polyline class="l" points="758.2,497.7 682,540.9" />
<polyline class="l" points="757.7,459.2 675.3,504.8" />
<polyline class="l" points="757.7,412.3 672.8,460.4" />
<polyline class="l" points="757.7,371.7 628.4,444" />
<circle class="c" cx="508.4" cy="75.8" r="8.9"/>
<text x="508.4" y="79.4" class="n">1</text>
<circle class="c" cx="573.5" cy="80.8" r="8.9"/>
<text x="573.5" y="84.4" class="n">2</text>
<circle class="c" cx="640.3" cy="118.6" r="8.9"/>
<text x="640.3" y="122.2" class="n">3</text>
<circle class="c" cx="677" cy="140" r="8.9"/>
<text x="677" y="143.6" class="n">4</text>
<circle class="c" cx="721" cy="165" r="8.9"/>
<text x="721" y="168.6" class="n">5</text>
<circle class="c" cx="768" cy="192" r="8.9"/>
<text x="768" y="195.6" class="n">6</text>
<circle class="c" cx="377.2" cy="134.3" r="8.9"/>
<text x="377.2" y="137.9" class="n">7</text>
<circle class="c" cx="402.3" cy="148.8" r="8.9"/>
<text x="402.3" y="152.4" class="n">8</text>
<circle class="c" cx="421.6" cy="160" r="8.9"/>
<text x="421.6" y="163.6" class="n">9</text>
<circle class="c" cx="439.4" cy="170.4" r="8.9"/>
<text x="439.4" y="174" class="n">10</text>
<circle class="c" cx="489.6" cy="199.5" r="8.9"/>
<text x="489.6" y="203.1" class="n">11</text>
<circle class="c" cx="515" cy="214" r="8.9"/>
<text x="515" y="217.6" class="n">12</text>
<circle class="c" cx="535" cy="225.4" r="8.9"/>
<text x="535" y="229" class="n">13</text>
<circle class="c" cx="554.4" cy="236.7" r="8.9"/>
<text x="554.4" y="240.3" class="n">14</text>
<circle class="c" cx="597.5" cy="263.2" r="8.9"/>
<text x="597.5" y="266.8" class="n">15</text>
<circle class="c" cx="225.8" cy="238.3" r="8.9"/>
<text x="225.8" y="241.9" class="n">16</text>
<circle class="c" cx="355.8" cy="312" r="8.9"/>
<text x="355.8" y="315.6" class="n">17</text>
<circle class="c" cx="380.8" cy="327.6" r="8.9"/>
<text x="380.8" y="331.2" class="n">18</text>
<circle class="c" cx="411.7" cy="345" r="8.9"/>
<text x="411.7" y="348.6" class="n">19</text>
<circle class="c" cx="434" cy="357" r="8.9"/>
<text x="434" y="360.6" class="n">20</text>
<circle class="c" cx="244" cy="342.3" r="8.9"/>
<text x="244" y="345.9" class="n">21</text>
<circle class="c" cx="267.4" cy="355.8" r="8.9"/>
<text x="267.4" y="359.4" class="n">22</text>
<circle class="c" cx="294.8" cy="371.4" r="8.9"/>
<text x="294.8" y="375" class="n">23</text>
<circle class="c" cx="409.6" cy="437.2" r="8.9"/>
<text x="409.6" y="440.8" class="n">24</text>
<circle class="c" cx="448.6" cy="459.7" r="8.9"/>
<text x="448.6" y="463.3" class="n">25</text>
<circle class="c" cx="472.7" cy="473.9" r="8.9"/>
<text x="472.7" y="477.5" class="n">26</text>
<circle class="c" cx="499.7" cy="489" r="8.9"/>
<text x="499.7" y="492.6" class="n">27</text>
<circle class="c" cx="295.4" cy="505.7" r="8.9"/>
<text x="295.4" y="509.3" class="n">28</text>
<circle class="c" cx="252.3" cy="530.6" r="8.9"/>
<text x="252.3" y="534.2" class="n">29</text>
<circle class="c" cx="252.2" cy="673" r="8.9"/>
<text x="252.2" y="676.6" class="n">30</text>
<circle class="c" cx="252.2" cy="713" r="8.9"/>
<text x="252.2" y="716.6" class="n">31</text>
<circle class="c" cx="253.3" cy="754.6" r="8.9"/>
<text x="253.3" y="758.2" class="n">32</text>
<circle class="c" cx="253.3" cy="796.4" r="8.9"/>
<text x="253.3" y="800" class="n">33</text>
<circle class="c" cx="252.4" cy="856" r="8.9"/>
<text x="252.4" y="859.6" class="n">34</text>
<circle class="c" cx="252.4" cy="934" r="8.9"/>
<text x="252.4" y="937.6" class="n">35</text>
<circle class="c" cx="461" cy="924.2" r="8.9"/>
<text x="461" y="927.8" class="n">36</text>
<circle class="c" cx="461" cy="945.5" r="8.9"/>
<text x="461" y="949.1" class="n">37</text>
<circle class="c" cx="460.4" cy="994.7" r="8.9"/>
<text x="460.4" y="998.3" class="n">38</text>
<circle class="c" cx="824.6" cy="879.6" r="8.9"/>
<text x="824.6" y="883.2" class="n">39</text>
<circle class="c" cx="866.7" cy="855" r="8.9"/>
<text x="866.7" y="858.6" class="n">40</text>
<circle class="c" cx="765.8" cy="574.3" r="8.9"/>
<text x="765.8" y="577.9" class="n">41</text>
<circle class="c" cx="765.8" cy="551.8" r="8.9"/>
<text x="765.8" y="555.4" class="n">42</text>
<circle class="c" cx="765.5" cy="493.7" r="8.9"/>
<text x="765.5" y="497.3" class="n">43</text>
<circle class="c" cx="765.3" cy="452.8" r="8.9"/>
<text x="765.3" y="456.4" class="n">44</text>
<circle class="c" cx="765.3" cy="406" r="8.9"/>
<text x="765.3" y="409.6" class="n">45</text>
<circle class="c" cx="765.3" cy="365.4" r="8.9"/>
<text x="765.3" y="369" class="n">46</text>
</svg>
</body></html>
